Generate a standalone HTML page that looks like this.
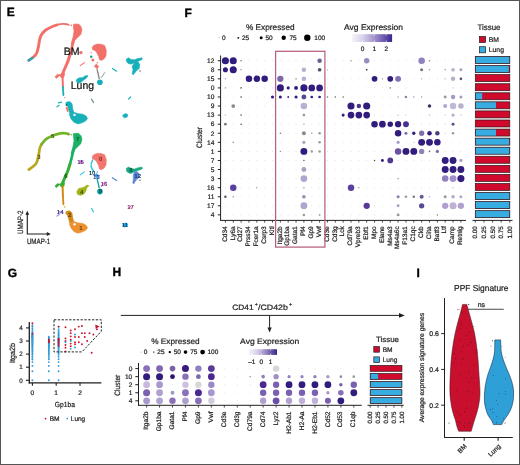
<!DOCTYPE html>
<html><head><meta charset="utf-8"><style>
html,body{margin:0;padding:0;background:#fff;}
#fig{position:relative;width:520px;height:465px;overflow:hidden;background:#fff;}
svg{position:absolute;left:0;top:0;will-change:transform;}
text{font-family:"Liberation Sans",sans-serif;text-rendering:geometricPrecision;}
</style></head><body><div id="fig">
<svg width="520" height="465" viewBox="0 0 520 465">
<rect x="0" y="0" width="520" height="465" fill="#fff"/>
<text x="6.80" y="16.30" font-size="12.0" fill="#000" font-weight="bold" stroke="#000" stroke-width="0.35">E</text>
<text x="184.60" y="16.50" font-size="12.0" fill="#000" font-weight="bold" stroke="#000" stroke-width="0.35">F</text>
<text x="7.80" y="277.30" font-size="12.0" fill="#000" font-weight="bold" stroke="#000" stroke-width="0.35">G</text>
<text x="112.60" y="275.60" font-size="12.0" fill="#000" font-weight="bold" stroke="#000" stroke-width="0.35">H</text>
<text x="416.50" y="277.30" font-size="12.0" fill="#000" font-weight="bold" stroke="#000" stroke-width="0.35">I</text>
<text x="246.00" y="29.60" font-size="8.2" fill="#231f20" textLength="48.6" lengthAdjust="spacingAndGlyphs" stroke="#231f20" stroke-width="0.22" >% Expressed</text>
<circle cx="219.00" cy="37.80" r="0.4" fill="#000" />
<text x="222.00" y="40.10" font-size="6.5" fill="#231f20" stroke="#231f20" stroke-width="0.22" >0</text>
<circle cx="238.30" cy="37.80" r="0.9" fill="#000" />
<text x="242.00" y="40.10" font-size="6.5" fill="#231f20" stroke="#231f20" stroke-width="0.22" >25</text>
<circle cx="261.20" cy="37.80" r="1.5" fill="#000" />
<text x="265.40" y="40.10" font-size="6.5" fill="#231f20" stroke="#231f20" stroke-width="0.22" >50</text>
<circle cx="283.70" cy="37.80" r="2.2" fill="#000" />
<text x="289.40" y="40.10" font-size="6.5" fill="#231f20" stroke="#231f20" stroke-width="0.22" >75</text>
<circle cx="307.30" cy="37.80" r="3.2" fill="#000" />
<text x="314.30" y="40.10" font-size="6.5" fill="#231f20" stroke="#231f20" stroke-width="0.22" >100</text>
<text x="344.00" y="29.60" font-size="8.2" fill="#231f20" textLength="59.0" lengthAdjust="spacingAndGlyphs" stroke="#231f20" stroke-width="0.22" >Avg Expression</text>
<defs><linearGradient id="gF" x1="0" x2="1" y1="0" y2="0"><stop offset="0" stop-color="#f7f5fb"/><stop offset="0.27" stop-color="#d9d1ea"/><stop offset="0.55" stop-color="#a596cc"/><stop offset="0.8" stop-color="#6a58ae"/><stop offset="1" stop-color="#3a2788"/></linearGradient><linearGradient id="gH" x1="0" x2="1" y1="0" y2="0"><stop offset="0" stop-color="#f7f5fb"/><stop offset="0.3" stop-color="#d9d1ea"/><stop offset="0.6" stop-color="#9a8ac6"/><stop offset="1" stop-color="#3a2788"/></linearGradient></defs>
<rect x="351.80" y="34.20" width="40.30" height="7.80" fill="url(#gF)" stroke="none" stroke-width="0" />
<line x1="362.60" y1="34.20" x2="362.60" y2="35.80" stroke="#fff" stroke-width="0.6" />
<line x1="362.60" y1="40.40" x2="362.60" y2="42.00" stroke="#fff" stroke-width="0.6" />
<line x1="374.30" y1="34.20" x2="374.30" y2="35.80" stroke="#fff" stroke-width="0.6" />
<line x1="374.30" y1="40.40" x2="374.30" y2="42.00" stroke="#fff" stroke-width="0.6" />
<line x1="386.20" y1="34.20" x2="386.20" y2="35.80" stroke="#fff" stroke-width="0.6" />
<line x1="386.20" y1="40.40" x2="386.20" y2="42.00" stroke="#fff" stroke-width="0.6" />
<text x="362.60" y="50.90" font-size="6.5" fill="#231f20" text-anchor="middle" stroke="#231f20" stroke-width="0.22" >0</text>
<text x="374.40" y="50.90" font-size="6.5" fill="#231f20" text-anchor="middle" stroke="#231f20" stroke-width="0.22" >1</text>
<text x="386.30" y="50.90" font-size="6.5" fill="#231f20" text-anchor="middle" stroke="#231f20" stroke-width="0.22" >2</text>
<text x="477.50" y="29.50" font-size="8.0" fill="#231f20" textLength="23.0" lengthAdjust="spacingAndGlyphs" stroke="#231f20" stroke-width="0.22" >Tissue</text>
<rect x="479.40" y="36.40" width="6.20" height="6.10" fill="#cf0a2c" stroke="#231f20" stroke-width="0.7" />
<rect x="479.40" y="46.70" width="6.20" height="6.10" fill="#36ace0" stroke="#231f20" stroke-width="0.7" />
<text x="488.80" y="41.90" font-size="6.8" fill="#231f20" stroke="#231f20" stroke-width="0.22" >BM</text>
<text x="488.80" y="51.90" font-size="6.8" fill="#231f20" stroke="#231f20" stroke-width="0.22" >Lung</text>
<circle cx="225.40" cy="60.70" r="3.55" fill="#321c7e" />
<circle cx="233.25" cy="60.70" r="3.55" fill="#321c7e" />
<circle cx="241.10" cy="60.70" r="0.8" fill="#777" />
<circle cx="248.95" cy="60.70" r="0.6" fill="#e6e3ec" />
<circle cx="256.80" cy="60.70" r="0.6" fill="#e6e3ec" />
<circle cx="264.65" cy="60.70" r="0.6" fill="#e6e3ec" />
<circle cx="272.50" cy="60.70" r="0.6" fill="#e6e3ec" />
<circle cx="280.35" cy="60.70" r="0.6" fill="#e6e3ec" />
<circle cx="288.20" cy="60.70" r="0.6" fill="#e6e3ec" />
<circle cx="296.05" cy="60.70" r="0.6" fill="#e6e3ec" />
<circle cx="303.90" cy="60.70" r="0.6" fill="#e6e3ec" />
<circle cx="311.75" cy="60.70" r="0.6" fill="#e6e3ec" />
<circle cx="319.60" cy="60.70" r="2.25" fill="#6a6090" />
<circle cx="327.45" cy="60.70" r="0.6" fill="#e6e3ec" />
<circle cx="335.30" cy="60.70" r="0.6" fill="#e6e3ec" />
<circle cx="343.15" cy="60.70" r="0.6" fill="#e6e3ec" />
<circle cx="351.00" cy="60.70" r="0.8" fill="#999" />
<circle cx="358.85" cy="60.70" r="0.6" fill="#e6e3ec" />
<circle cx="366.70" cy="60.70" r="2.75" fill="#9a8cc0" />
<circle cx="374.55" cy="60.70" r="0.6" fill="#e6e3ec" />
<circle cx="382.40" cy="60.70" r="0.6" fill="#e6e3ec" />
<circle cx="390.25" cy="60.70" r="0.6" fill="#e6e3ec" />
<circle cx="398.10" cy="60.70" r="0.6" fill="#e6e3ec" />
<circle cx="405.95" cy="60.70" r="0.6" fill="#e6e3ec" />
<circle cx="413.80" cy="60.70" r="0.6" fill="#e6e3ec" />
<circle cx="421.65" cy="60.70" r="3.25" fill="#9080c0" />
<circle cx="429.50" cy="60.70" r="0.8" fill="#888" />
<circle cx="437.35" cy="60.70" r="0.6" fill="#e6e3ec" />
<circle cx="445.20" cy="60.70" r="0.6" fill="#e6e3ec" />
<circle cx="453.05" cy="60.70" r="0.6" fill="#e6e3ec" />
<circle cx="460.90" cy="60.70" r="0.6" fill="#e6e3ec" />
<circle cx="225.40" cy="69.77" r="2.55" fill="#321c7e" />
<circle cx="233.25" cy="69.77" r="3.55" fill="#321c7e" />
<circle cx="241.10" cy="69.77" r="0.8" fill="#9990b0" />
<circle cx="248.95" cy="69.77" r="0.6" fill="#e6e3ec" />
<circle cx="256.80" cy="69.77" r="0.6" fill="#e6e3ec" />
<circle cx="264.65" cy="69.77" r="0.6" fill="#e6e3ec" />
<circle cx="272.50" cy="69.77" r="0.6" fill="#e6e3ec" />
<circle cx="280.35" cy="69.77" r="0.6" fill="#e6e3ec" />
<circle cx="288.20" cy="69.77" r="0.6" fill="#e6e3ec" />
<circle cx="296.05" cy="69.77" r="0.6" fill="#e6e3ec" />
<circle cx="303.90" cy="69.77" r="2.25" fill="#b8b0d0" />
<circle cx="311.75" cy="69.77" r="0.6" fill="#e6e3ec" />
<circle cx="319.60" cy="69.77" r="1.85" fill="#555070" />
<circle cx="327.45" cy="69.77" r="0.6" fill="#999" />
<circle cx="335.30" cy="69.77" r="0.6" fill="#e6e3ec" />
<circle cx="343.15" cy="69.77" r="0.6" fill="#e6e3ec" />
<circle cx="351.00" cy="69.77" r="0.6" fill="#e6e3ec" />
<circle cx="358.85" cy="69.77" r="0.6" fill="#e6e3ec" />
<circle cx="366.70" cy="69.77" r="0.9" fill="#555" />
<circle cx="374.55" cy="69.77" r="0.6" fill="#e6e3ec" />
<circle cx="382.40" cy="69.77" r="0.6" fill="#e6e3ec" />
<circle cx="390.25" cy="69.77" r="0.6" fill="#e6e3ec" />
<circle cx="398.10" cy="69.77" r="0.6" fill="#e6e3ec" />
<circle cx="405.95" cy="69.77" r="0.6" fill="#e6e3ec" />
<circle cx="413.80" cy="69.77" r="0.6" fill="#e6e3ec" />
<circle cx="421.65" cy="69.77" r="1.55" fill="#777" />
<circle cx="429.50" cy="69.77" r="0.8" fill="#999" />
<circle cx="437.35" cy="69.77" r="0.6" fill="#e6e3ec" />
<circle cx="445.20" cy="69.77" r="0.8" fill="#999" />
<circle cx="453.05" cy="69.77" r="1.85" fill="#b8b0d0" />
<circle cx="460.90" cy="69.77" r="1.45" fill="#a8a0c0" />
<circle cx="225.40" cy="78.84" r="0.7" fill="#8080c0" />
<circle cx="233.25" cy="78.84" r="0.6" fill="#e6e3ec" />
<circle cx="241.10" cy="78.84" r="0.6" fill="#e6e3ec" />
<circle cx="248.95" cy="78.84" r="3.25" fill="#321c7e" />
<circle cx="256.80" cy="78.84" r="3.25" fill="#321c7e" />
<circle cx="264.65" cy="78.84" r="3.25" fill="#321c7e" />
<circle cx="272.50" cy="78.84" r="0.6" fill="#e6e3ec" />
<circle cx="280.35" cy="78.84" r="3.15" fill="#7a68a8" />
<circle cx="288.20" cy="78.84" r="0.6" fill="#e6e3ec" />
<circle cx="296.05" cy="78.84" r="0.7" fill="#555" />
<circle cx="303.90" cy="78.84" r="2.25" fill="#b8b0d0" />
<circle cx="311.75" cy="78.84" r="0.6" fill="#e6e3ec" />
<circle cx="319.60" cy="78.84" r="0.6" fill="#e6e3ec" />
<circle cx="327.45" cy="78.84" r="0.6" fill="#e6e3ec" />
<circle cx="335.30" cy="78.84" r="0.6" fill="#e6e3ec" />
<circle cx="343.15" cy="78.84" r="0.6" fill="#e6e3ec" />
<circle cx="351.00" cy="78.84" r="0.6" fill="#e6e3ec" />
<circle cx="358.85" cy="78.84" r="0.6" fill="#e6e3ec" />
<circle cx="366.70" cy="78.84" r="0.6" fill="#e6e3ec" />
<circle cx="374.55" cy="78.84" r="2.85" fill="#321c7e" />
<circle cx="382.40" cy="78.84" r="0.7" fill="#888" />
<circle cx="390.25" cy="78.84" r="2.85" fill="#321c7e" />
<circle cx="398.10" cy="78.84" r="2.95" fill="#8070b0" />
<circle cx="405.95" cy="78.84" r="0.6" fill="#e6e3ec" />
<circle cx="413.80" cy="78.84" r="0.6" fill="#e6e3ec" />
<circle cx="421.65" cy="78.84" r="0.7" fill="#999" />
<circle cx="429.50" cy="78.84" r="0.6" fill="#e6e3ec" />
<circle cx="437.35" cy="78.84" r="0.6" fill="#e6e3ec" />
<circle cx="445.20" cy="78.84" r="0.7" fill="#aaa" />
<circle cx="453.05" cy="78.84" r="2.25" fill="#b8b0d0" />
<circle cx="460.90" cy="78.84" r="1.35" fill="#555070" />
<circle cx="225.40" cy="87.91" r="0.8" fill="#aaa" />
<circle cx="233.25" cy="87.91" r="0.6" fill="#e6e3ec" />
<circle cx="241.10" cy="87.91" r="0.8" fill="#555" />
<circle cx="248.95" cy="87.91" r="0.6" fill="#e6e3ec" />
<circle cx="256.80" cy="87.91" r="0.6" fill="#e6e3ec" />
<circle cx="264.65" cy="87.91" r="0.6" fill="#e6e3ec" />
<circle cx="272.50" cy="87.91" r="0.6" fill="#e6e3ec" />
<circle cx="280.35" cy="87.91" r="3.55" fill="#321c7e" />
<circle cx="288.20" cy="87.91" r="1.55" fill="#321c7e" />
<circle cx="296.05" cy="87.91" r="1.95" fill="#321c7e" />
<circle cx="303.90" cy="87.91" r="3.55" fill="#321c7e" />
<circle cx="311.75" cy="87.91" r="3.35" fill="#321c7e" />
<circle cx="319.60" cy="87.91" r="3.35" fill="#321c7e" />
<circle cx="327.45" cy="87.91" r="0.6" fill="#e6e3ec" />
<circle cx="335.30" cy="87.91" r="0.6" fill="#e6e3ec" />
<circle cx="343.15" cy="87.91" r="0.6" fill="#e6e3ec" />
<circle cx="351.00" cy="87.91" r="0.6" fill="#e6e3ec" />
<circle cx="358.85" cy="87.91" r="0.6" fill="#e6e3ec" />
<circle cx="366.70" cy="87.91" r="0.6" fill="#e6e3ec" />
<circle cx="374.55" cy="87.91" r="0.6" fill="#e6e3ec" />
<circle cx="382.40" cy="87.91" r="0.6" fill="#e6e3ec" />
<circle cx="390.25" cy="87.91" r="0.8" fill="#888" />
<circle cx="398.10" cy="87.91" r="0.6" fill="#e6e3ec" />
<circle cx="405.95" cy="87.91" r="0.6" fill="#e6e3ec" />
<circle cx="413.80" cy="87.91" r="0.6" fill="#e6e3ec" />
<circle cx="421.65" cy="87.91" r="0.6" fill="#e6e3ec" />
<circle cx="429.50" cy="87.91" r="0.6" fill="#e6e3ec" />
<circle cx="437.35" cy="87.91" r="0.6" fill="#e6e3ec" />
<circle cx="445.20" cy="87.91" r="0.6" fill="#e6e3ec" />
<circle cx="453.05" cy="87.91" r="0.7" fill="#ccc" />
<circle cx="460.90" cy="87.91" r="0.6" fill="#e6e3ec" />
<circle cx="225.40" cy="96.98" r="0.6" fill="#e6e3ec" />
<circle cx="233.25" cy="96.98" r="0.6" fill="#e6e3ec" />
<circle cx="241.10" cy="96.98" r="0.8" fill="#444" />
<circle cx="248.95" cy="96.98" r="0.6" fill="#e6e3ec" />
<circle cx="256.80" cy="96.98" r="0.6" fill="#e6e3ec" />
<circle cx="264.65" cy="96.98" r="0.6" fill="#e6e3ec" />
<circle cx="272.50" cy="96.98" r="1.55" fill="#321c7e" />
<circle cx="280.35" cy="96.98" r="1.55" fill="#321c7e" />
<circle cx="288.20" cy="96.98" r="0.9" fill="#321c7e" />
<circle cx="296.05" cy="96.98" r="1.55" fill="#321c7e" />
<circle cx="303.90" cy="96.98" r="2.45" fill="#5a4890" />
<circle cx="311.75" cy="96.98" r="1.35" fill="#321c7e" />
<circle cx="319.60" cy="96.98" r="1.35" fill="#321c7e" />
<circle cx="327.45" cy="96.98" r="0.8" fill="#666" />
<circle cx="335.30" cy="96.98" r="0.8" fill="#666" />
<circle cx="343.15" cy="96.98" r="0.8" fill="#666" />
<circle cx="351.00" cy="96.98" r="0.6" fill="#e6e3ec" />
<circle cx="358.85" cy="96.98" r="0.6" fill="#e6e3ec" />
<circle cx="366.70" cy="96.98" r="0.6" fill="#e6e3ec" />
<circle cx="374.55" cy="96.98" r="0.6" fill="#e6e3ec" />
<circle cx="382.40" cy="96.98" r="0.6" fill="#e6e3ec" />
<circle cx="390.25" cy="96.98" r="0.6" fill="#e6e3ec" />
<circle cx="398.10" cy="96.98" r="0.7" fill="#999" />
<circle cx="405.95" cy="96.98" r="1.25" fill="#8a80a8" />
<circle cx="413.80" cy="96.98" r="0.7" fill="#999" />
<circle cx="421.65" cy="96.98" r="0.7" fill="#999" />
<circle cx="429.50" cy="96.98" r="0.6" fill="#e6e3ec" />
<circle cx="437.35" cy="96.98" r="0.6" fill="#e6e3ec" />
<circle cx="445.20" cy="96.98" r="1.45" fill="#999" />
<circle cx="453.05" cy="96.98" r="2.25" fill="#a898c8" />
<circle cx="460.90" cy="96.98" r="1.55" fill="#a8a0c0" />
<circle cx="225.40" cy="106.05" r="0.6" fill="#e6e3ec" />
<circle cx="233.25" cy="106.05" r="1.85" fill="#888" />
<circle cx="241.10" cy="106.05" r="0.6" fill="#e6e3ec" />
<circle cx="248.95" cy="106.05" r="0.6" fill="#e6e3ec" />
<circle cx="256.80" cy="106.05" r="0.6" fill="#e6e3ec" />
<circle cx="264.65" cy="106.05" r="0.6" fill="#e6e3ec" />
<circle cx="272.50" cy="106.05" r="0.6" fill="#e6e3ec" />
<circle cx="280.35" cy="106.05" r="0.6" fill="#e6e3ec" />
<circle cx="288.20" cy="106.05" r="0.6" fill="#e6e3ec" />
<circle cx="296.05" cy="106.05" r="0.6" fill="#e6e3ec" />
<circle cx="303.90" cy="106.05" r="3.25" fill="#b8aed6" />
<circle cx="311.75" cy="106.05" r="0.6" fill="#e6e3ec" />
<circle cx="319.60" cy="106.05" r="0.6" fill="#e6e3ec" />
<circle cx="327.45" cy="106.05" r="0.6" fill="#e6e3ec" />
<circle cx="335.30" cy="106.05" r="0.6" fill="#e6e3ec" />
<circle cx="343.15" cy="106.05" r="0.6" fill="#e6e3ec" />
<circle cx="351.00" cy="106.05" r="3.55" fill="#321c7e" />
<circle cx="358.85" cy="106.05" r="2.25" fill="#4a3488" />
<circle cx="366.70" cy="106.05" r="3.55" fill="#321c7e" />
<circle cx="374.55" cy="106.05" r="0.6" fill="#e6e3ec" />
<circle cx="382.40" cy="106.05" r="0.6" fill="#e6e3ec" />
<circle cx="390.25" cy="106.05" r="0.6" fill="#e6e3ec" />
<circle cx="398.10" cy="106.05" r="0.6" fill="#e6e3ec" />
<circle cx="405.95" cy="106.05" r="0.6" fill="#e6e3ec" />
<circle cx="413.80" cy="106.05" r="0.6" fill="#e6e3ec" />
<circle cx="421.65" cy="106.05" r="0.6" fill="#e6e3ec" />
<circle cx="429.50" cy="106.05" r="1.75" fill="#3a3060" />
<circle cx="437.35" cy="106.05" r="0.6" fill="#e6e3ec" />
<circle cx="445.20" cy="106.05" r="2.05" fill="#b0a8d0" />
<circle cx="453.05" cy="106.05" r="3.25" fill="#c0b8d8" />
<circle cx="460.90" cy="106.05" r="2.75" fill="#b8b0d0" />
<circle cx="225.40" cy="115.12" r="0.7" fill="#b0a8d0" />
<circle cx="233.25" cy="115.12" r="0.6" fill="#e6e3ec" />
<circle cx="241.10" cy="115.12" r="0.8" fill="#555" />
<circle cx="248.95" cy="115.12" r="0.6" fill="#e6e3ec" />
<circle cx="256.80" cy="115.12" r="0.6" fill="#e6e3ec" />
<circle cx="264.65" cy="115.12" r="0.6" fill="#e6e3ec" />
<circle cx="272.50" cy="115.12" r="0.6" fill="#e6e3ec" />
<circle cx="280.35" cy="115.12" r="0.6" fill="#e6e3ec" />
<circle cx="288.20" cy="115.12" r="0.6" fill="#e6e3ec" />
<circle cx="296.05" cy="115.12" r="0.6" fill="#e6e3ec" />
<circle cx="303.90" cy="115.12" r="1.35" fill="#999" />
<circle cx="311.75" cy="115.12" r="0.6" fill="#e6e3ec" />
<circle cx="319.60" cy="115.12" r="0.6" fill="#e6e3ec" />
<circle cx="327.45" cy="115.12" r="0.6" fill="#e6e3ec" />
<circle cx="335.30" cy="115.12" r="0.6" fill="#e6e3ec" />
<circle cx="343.15" cy="115.12" r="1.55" fill="#321c7e" />
<circle cx="351.00" cy="115.12" r="3.35" fill="#321c7e" />
<circle cx="358.85" cy="115.12" r="3.35" fill="#321c7e" />
<circle cx="366.70" cy="115.12" r="3.35" fill="#321c7e" />
<circle cx="374.55" cy="115.12" r="0.6" fill="#e6e3ec" />
<circle cx="382.40" cy="115.12" r="0.6" fill="#e6e3ec" />
<circle cx="390.25" cy="115.12" r="0.6" fill="#e6e3ec" />
<circle cx="398.10" cy="115.12" r="0.7" fill="#b0a8d0" />
<circle cx="405.95" cy="115.12" r="0.6" fill="#bbb" />
<circle cx="413.80" cy="115.12" r="0.6" fill="#e6e3ec" />
<circle cx="421.65" cy="115.12" r="0.6" fill="#e6e3ec" />
<circle cx="429.50" cy="115.12" r="0.7" fill="#aaa" />
<circle cx="437.35" cy="115.12" r="0.6" fill="#e6e3ec" />
<circle cx="445.20" cy="115.12" r="0.7" fill="#c0b8d8" />
<circle cx="453.05" cy="115.12" r="1.55" fill="#b0a8d0" />
<circle cx="460.90" cy="115.12" r="0.7" fill="#bbb" />
<circle cx="225.40" cy="124.19" r="1.35" fill="#777" />
<circle cx="233.25" cy="124.19" r="0.6" fill="#e6e3ec" />
<circle cx="241.10" cy="124.19" r="0.8" fill="#555" />
<circle cx="248.95" cy="124.19" r="0.6" fill="#e6e3ec" />
<circle cx="256.80" cy="124.19" r="0.6" fill="#e6e3ec" />
<circle cx="264.65" cy="124.19" r="0.6" fill="#e6e3ec" />
<circle cx="272.50" cy="124.19" r="0.6" fill="#e6e3ec" />
<circle cx="280.35" cy="124.19" r="0.6" fill="#e6e3ec" />
<circle cx="288.20" cy="124.19" r="0.6" fill="#e6e3ec" />
<circle cx="296.05" cy="124.19" r="0.6" fill="#e6e3ec" />
<circle cx="303.90" cy="124.19" r="0.8" fill="#aaa" />
<circle cx="311.75" cy="124.19" r="0.6" fill="#e6e3ec" />
<circle cx="319.60" cy="124.19" r="0.6" fill="#e6e3ec" />
<circle cx="327.45" cy="124.19" r="0.6" fill="#e6e3ec" />
<circle cx="335.30" cy="124.19" r="0.6" fill="#e6e3ec" />
<circle cx="343.15" cy="124.19" r="0.6" fill="#e6e3ec" />
<circle cx="351.00" cy="124.19" r="0.6" fill="#e6e3ec" />
<circle cx="358.85" cy="124.19" r="0.6" fill="#e6e3ec" />
<circle cx="366.70" cy="124.19" r="0.6" fill="#e6e3ec" />
<circle cx="374.55" cy="124.19" r="3.25" fill="#321c7e" />
<circle cx="382.40" cy="124.19" r="3.35" fill="#321c7e" />
<circle cx="390.25" cy="124.19" r="2.75" fill="#321c7e" />
<circle cx="398.10" cy="124.19" r="3.15" fill="#321c7e" />
<circle cx="405.95" cy="124.19" r="2.95" fill="#4a3090" />
<circle cx="413.80" cy="124.19" r="0.6" fill="#e6e3ec" />
<circle cx="421.65" cy="124.19" r="0.6" fill="#e6e3ec" />
<circle cx="429.50" cy="124.19" r="0.6" fill="#e6e3ec" />
<circle cx="437.35" cy="124.19" r="0.6" fill="#e6e3ec" />
<circle cx="445.20" cy="124.19" r="0.6" fill="#ccc" />
<circle cx="453.05" cy="124.19" r="1.45" fill="#555080" />
<circle cx="460.90" cy="124.19" r="0.6" fill="#e6e3ec" />
<circle cx="225.40" cy="133.26" r="0.6" fill="#e6e3ec" />
<circle cx="233.25" cy="133.26" r="0.6" fill="#e6e3ec" />
<circle cx="241.10" cy="133.26" r="0.6" fill="#e6e3ec" />
<circle cx="248.95" cy="133.26" r="0.6" fill="#e6e3ec" />
<circle cx="256.80" cy="133.26" r="0.6" fill="#e6e3ec" />
<circle cx="264.65" cy="133.26" r="0.6" fill="#e6e3ec" />
<circle cx="272.50" cy="133.26" r="0.6" fill="#e6e3ec" />
<circle cx="280.35" cy="133.26" r="0.7" fill="#666" />
<circle cx="288.20" cy="133.26" r="0.6" fill="#e6e3ec" />
<circle cx="296.05" cy="133.26" r="0.6" fill="#e6e3ec" />
<circle cx="303.90" cy="133.26" r="1.95" fill="#888" />
<circle cx="311.75" cy="133.26" r="0.8" fill="#999" />
<circle cx="319.60" cy="133.26" r="1.25" fill="#999" />
<circle cx="327.45" cy="133.26" r="0.6" fill="#e6e3ec" />
<circle cx="335.30" cy="133.26" r="0.6" fill="#e6e3ec" />
<circle cx="343.15" cy="133.26" r="0.6" fill="#e6e3ec" />
<circle cx="351.00" cy="133.26" r="0.6" fill="#e6e3ec" />
<circle cx="358.85" cy="133.26" r="0.6" fill="#e6e3ec" />
<circle cx="366.70" cy="133.26" r="0.6" fill="#e6e3ec" />
<circle cx="374.55" cy="133.26" r="0.6" fill="#e6e3ec" />
<circle cx="382.40" cy="133.26" r="0.6" fill="#e6e3ec" />
<circle cx="390.25" cy="133.26" r="0.6" fill="#e6e3ec" />
<circle cx="398.10" cy="133.26" r="3.25" fill="#321c7e" />
<circle cx="405.95" cy="133.26" r="1.55" fill="#8070a8" />
<circle cx="413.80" cy="133.26" r="1.65" fill="#321c7e" />
<circle cx="421.65" cy="133.26" r="2.65" fill="#8070a8" />
<circle cx="429.50" cy="133.26" r="2.25" fill="#321c7e" />
<circle cx="437.35" cy="133.26" r="2.25" fill="#4a4080" />
<circle cx="445.20" cy="133.26" r="0.6" fill="#ccc" />
<circle cx="453.05" cy="133.26" r="1.25" fill="#999" />
<circle cx="460.90" cy="133.26" r="0.6" fill="#e6e3ec" />
<circle cx="225.40" cy="142.33" r="0.6" fill="#e6e3ec" />
<circle cx="233.25" cy="142.33" r="0.8" fill="#999" />
<circle cx="241.10" cy="142.33" r="0.6" fill="#e6e3ec" />
<circle cx="248.95" cy="142.33" r="0.6" fill="#e6e3ec" />
<circle cx="256.80" cy="142.33" r="0.6" fill="#e6e3ec" />
<circle cx="264.65" cy="142.33" r="0.6" fill="#e6e3ec" />
<circle cx="272.50" cy="142.33" r="0.6" fill="#e6e3ec" />
<circle cx="280.35" cy="142.33" r="0.6" fill="#e6e3ec" />
<circle cx="288.20" cy="142.33" r="0.6" fill="#e6e3ec" />
<circle cx="296.05" cy="142.33" r="0.6" fill="#e6e3ec" />
<circle cx="303.90" cy="142.33" r="1.55" fill="#a8a0c0" />
<circle cx="311.75" cy="142.33" r="0.6" fill="#e6e3ec" />
<circle cx="319.60" cy="142.33" r="1.25" fill="#999" />
<circle cx="327.45" cy="142.33" r="0.6" fill="#e6e3ec" />
<circle cx="335.30" cy="142.33" r="0.6" fill="#e6e3ec" />
<circle cx="343.15" cy="142.33" r="0.6" fill="#e6e3ec" />
<circle cx="351.00" cy="142.33" r="0.6" fill="#e6e3ec" />
<circle cx="358.85" cy="142.33" r="0.6" fill="#e6e3ec" />
<circle cx="366.70" cy="142.33" r="0.6" fill="#e6e3ec" />
<circle cx="374.55" cy="142.33" r="0.6" fill="#e6e3ec" />
<circle cx="382.40" cy="142.33" r="0.6" fill="#e6e3ec" />
<circle cx="390.25" cy="142.33" r="0.6" fill="#e6e3ec" />
<circle cx="398.10" cy="142.33" r="1.55" fill="#a898c8" />
<circle cx="405.95" cy="142.33" r="0.6" fill="#e6e3ec" />
<circle cx="413.80" cy="142.33" r="0.6" fill="#bbb" />
<circle cx="421.65" cy="142.33" r="3.45" fill="#321c7e" />
<circle cx="429.50" cy="142.33" r="3.45" fill="#321c7e" />
<circle cx="437.35" cy="142.33" r="3.25" fill="#321c7e" />
<circle cx="445.20" cy="142.33" r="0.6" fill="#e6e3ec" />
<circle cx="453.05" cy="142.33" r="0.6" fill="#e6e3ec" />
<circle cx="460.90" cy="142.33" r="0.6" fill="#e6e3ec" />
<circle cx="225.40" cy="151.40" r="0.6" fill="#e6e3ec" />
<circle cx="233.25" cy="151.40" r="0.6" fill="#e6e3ec" />
<circle cx="241.10" cy="151.40" r="0.6" fill="#e6e3ec" />
<circle cx="248.95" cy="151.40" r="0.6" fill="#e6e3ec" />
<circle cx="256.80" cy="151.40" r="0.6" fill="#e6e3ec" />
<circle cx="264.65" cy="151.40" r="0.6" fill="#e6e3ec" />
<circle cx="272.50" cy="151.40" r="0.6" fill="#e6e3ec" />
<circle cx="280.35" cy="151.40" r="0.7" fill="#888" />
<circle cx="288.20" cy="151.40" r="0.6" fill="#e6e3ec" />
<circle cx="296.05" cy="151.40" r="0.6" fill="#e6e3ec" />
<circle cx="303.90" cy="151.40" r="3.45" fill="#321c7e" />
<circle cx="311.75" cy="151.40" r="1.25" fill="#999" />
<circle cx="319.60" cy="151.40" r="1.25" fill="#999" />
<circle cx="327.45" cy="151.40" r="0.6" fill="#e6e3ec" />
<circle cx="335.30" cy="151.40" r="0.6" fill="#e6e3ec" />
<circle cx="343.15" cy="151.40" r="0.6" fill="#e6e3ec" />
<circle cx="351.00" cy="151.40" r="0.6" fill="#e6e3ec" />
<circle cx="358.85" cy="151.40" r="0.6" fill="#e6e3ec" />
<circle cx="366.70" cy="151.40" r="0.6" fill="#e6e3ec" />
<circle cx="374.55" cy="151.40" r="0.6" fill="#e6e3ec" />
<circle cx="382.40" cy="151.40" r="0.6" fill="#e6e3ec" />
<circle cx="390.25" cy="151.40" r="0.6" fill="#e6e3ec" />
<circle cx="398.10" cy="151.40" r="3.25" fill="#6a50a0" />
<circle cx="405.95" cy="151.40" r="3.45" fill="#321c7e" />
<circle cx="413.80" cy="151.40" r="3.45" fill="#321c7e" />
<circle cx="421.65" cy="151.40" r="2.65" fill="#9080b8" />
<circle cx="429.50" cy="151.40" r="0.8" fill="#666" />
<circle cx="437.35" cy="151.40" r="1.65" fill="#7a70a0" />
<circle cx="445.20" cy="151.40" r="0.6" fill="#e6e3ec" />
<circle cx="453.05" cy="151.40" r="0.6" fill="#e6e3ec" />
<circle cx="460.90" cy="151.40" r="0.6" fill="#e6e3ec" />
<circle cx="225.40" cy="160.47" r="0.6" fill="#e6e3ec" />
<circle cx="233.25" cy="160.47" r="0.6" fill="#e6e3ec" />
<circle cx="241.10" cy="160.47" r="0.6" fill="#e6e3ec" />
<circle cx="248.95" cy="160.47" r="0.6" fill="#e6e3ec" />
<circle cx="256.80" cy="160.47" r="0.6" fill="#e6e3ec" />
<circle cx="264.65" cy="160.47" r="0.6" fill="#e6e3ec" />
<circle cx="272.50" cy="160.47" r="0.6" fill="#e6e3ec" />
<circle cx="280.35" cy="160.47" r="0.6" fill="#e6e3ec" />
<circle cx="288.20" cy="160.47" r="0.6" fill="#e6e3ec" />
<circle cx="296.05" cy="160.47" r="0.6" fill="#e6e3ec" />
<circle cx="303.90" cy="160.47" r="0.8" fill="#666" />
<circle cx="311.75" cy="160.47" r="0.6" fill="#e6e3ec" />
<circle cx="319.60" cy="160.47" r="0.6" fill="#e6e3ec" />
<circle cx="327.45" cy="160.47" r="0.6" fill="#e6e3ec" />
<circle cx="335.30" cy="160.47" r="0.6" fill="#e6e3ec" />
<circle cx="343.15" cy="160.47" r="0.6" fill="#e6e3ec" />
<circle cx="351.00" cy="160.47" r="0.6" fill="#e6e3ec" />
<circle cx="358.85" cy="160.47" r="0.6" fill="#e6e3ec" />
<circle cx="366.70" cy="160.47" r="0.6" fill="#e6e3ec" />
<circle cx="374.55" cy="160.47" r="0.7" fill="#444" />
<circle cx="382.40" cy="160.47" r="1.45" fill="#321c7e" />
<circle cx="390.25" cy="160.47" r="2.85" fill="#503890" />
<circle cx="398.10" cy="160.47" r="0.6" fill="#e6e3ec" />
<circle cx="405.95" cy="160.47" r="0.6" fill="#e6e3ec" />
<circle cx="413.80" cy="160.47" r="0.6" fill="#e6e3ec" />
<circle cx="421.65" cy="160.47" r="0.6" fill="#e6e3ec" />
<circle cx="429.50" cy="160.47" r="0.6" fill="#e6e3ec" />
<circle cx="437.35" cy="160.47" r="0.6" fill="#e6e3ec" />
<circle cx="445.20" cy="160.47" r="3.45" fill="#321c7e" />
<circle cx="453.05" cy="160.47" r="3.45" fill="#321c7e" />
<circle cx="460.90" cy="160.47" r="1.65" fill="#a8a0c8" />
<circle cx="225.40" cy="169.54" r="0.6" fill="#e6e3ec" />
<circle cx="233.25" cy="169.54" r="0.6" fill="#e6e3ec" />
<circle cx="241.10" cy="169.54" r="0.6" fill="#e6e3ec" />
<circle cx="248.95" cy="169.54" r="0.6" fill="#e6e3ec" />
<circle cx="256.80" cy="169.54" r="0.6" fill="#e6e3ec" />
<circle cx="264.65" cy="169.54" r="0.6" fill="#e6e3ec" />
<circle cx="272.50" cy="169.54" r="0.6" fill="#e6e3ec" />
<circle cx="280.35" cy="169.54" r="0.6" fill="#e6e3ec" />
<circle cx="288.20" cy="169.54" r="0.6" fill="#e6e3ec" />
<circle cx="296.05" cy="169.54" r="0.6" fill="#e6e3ec" />
<circle cx="303.90" cy="169.54" r="2.45" fill="#a8a0c0" />
<circle cx="311.75" cy="169.54" r="0.6" fill="#e6e3ec" />
<circle cx="319.60" cy="169.54" r="0.6" fill="#e6e3ec" />
<circle cx="327.45" cy="169.54" r="0.6" fill="#e6e3ec" />
<circle cx="335.30" cy="169.54" r="0.6" fill="#e6e3ec" />
<circle cx="343.15" cy="169.54" r="0.6" fill="#e6e3ec" />
<circle cx="351.00" cy="169.54" r="0.6" fill="#e6e3ec" />
<circle cx="358.85" cy="169.54" r="0.6" fill="#e6e3ec" />
<circle cx="366.70" cy="169.54" r="0.6" fill="#e6e3ec" />
<circle cx="374.55" cy="169.54" r="0.6" fill="#e6e3ec" />
<circle cx="382.40" cy="169.54" r="0.6" fill="#e6e3ec" />
<circle cx="390.25" cy="169.54" r="0.6" fill="#e6e3ec" />
<circle cx="398.10" cy="169.54" r="0.6" fill="#e6e3ec" />
<circle cx="405.95" cy="169.54" r="0.6" fill="#e6e3ec" />
<circle cx="413.80" cy="169.54" r="0.6" fill="#e6e3ec" />
<circle cx="421.65" cy="169.54" r="0.6" fill="#e6e3ec" />
<circle cx="429.50" cy="169.54" r="0.6" fill="#e6e3ec" />
<circle cx="437.35" cy="169.54" r="0.6" fill="#e6e3ec" />
<circle cx="445.20" cy="169.54" r="3.45" fill="#321c7e" />
<circle cx="453.05" cy="169.54" r="3.45" fill="#321c7e" />
<circle cx="460.90" cy="169.54" r="3.45" fill="#321c7e" />
<circle cx="225.40" cy="178.61" r="0.6" fill="#e6e3ec" />
<circle cx="233.25" cy="178.61" r="0.6" fill="#e6e3ec" />
<circle cx="241.10" cy="178.61" r="0.6" fill="#e6e3ec" />
<circle cx="248.95" cy="178.61" r="0.6" fill="#e6e3ec" />
<circle cx="256.80" cy="178.61" r="0.6" fill="#e6e3ec" />
<circle cx="264.65" cy="178.61" r="0.6" fill="#e6e3ec" />
<circle cx="272.50" cy="178.61" r="0.6" fill="#e6e3ec" />
<circle cx="280.35" cy="178.61" r="0.6" fill="#e6e3ec" />
<circle cx="288.20" cy="178.61" r="0.6" fill="#e6e3ec" />
<circle cx="296.05" cy="178.61" r="0.6" fill="#e6e3ec" />
<circle cx="303.90" cy="178.61" r="3.35" fill="#b0a4d0" />
<circle cx="311.75" cy="178.61" r="0.6" fill="#e6e3ec" />
<circle cx="319.60" cy="178.61" r="0.6" fill="#e6e3ec" />
<circle cx="327.45" cy="178.61" r="0.6" fill="#e6e3ec" />
<circle cx="335.30" cy="178.61" r="0.6" fill="#e6e3ec" />
<circle cx="343.15" cy="178.61" r="0.6" fill="#e6e3ec" />
<circle cx="351.00" cy="178.61" r="0.6" fill="#e6e3ec" />
<circle cx="358.85" cy="178.61" r="0.6" fill="#e6e3ec" />
<circle cx="366.70" cy="178.61" r="0.6" fill="#e6e3ec" />
<circle cx="374.55" cy="178.61" r="0.6" fill="#e6e3ec" />
<circle cx="382.40" cy="178.61" r="0.6" fill="#e6e3ec" />
<circle cx="390.25" cy="178.61" r="0.6" fill="#e6e3ec" />
<circle cx="398.10" cy="178.61" r="0.8" fill="#999" />
<circle cx="405.95" cy="178.61" r="0.6" fill="#e6e3ec" />
<circle cx="413.80" cy="178.61" r="0.6" fill="#e6e3ec" />
<circle cx="421.65" cy="178.61" r="0.6" fill="#e6e3ec" />
<circle cx="429.50" cy="178.61" r="0.6" fill="#e6e3ec" />
<circle cx="437.35" cy="178.61" r="0.6" fill="#e6e3ec" />
<circle cx="445.20" cy="178.61" r="3.25" fill="#9080c0" />
<circle cx="453.05" cy="178.61" r="3.45" fill="#9f90c8" />
<circle cx="460.90" cy="178.61" r="3.55" fill="#321c7e" />
<circle cx="225.40" cy="187.68" r="0.6" fill="#e6e3ec" />
<circle cx="233.25" cy="187.68" r="3.25" fill="#5a40a0" />
<circle cx="241.10" cy="187.68" r="0.6" fill="#e6e3ec" />
<circle cx="248.95" cy="187.68" r="0.6" fill="#e6e3ec" />
<circle cx="256.80" cy="187.68" r="0.7" fill="#999" />
<circle cx="264.65" cy="187.68" r="0.6" fill="#e6e3ec" />
<circle cx="272.50" cy="187.68" r="0.6" fill="#e6e3ec" />
<circle cx="280.35" cy="187.68" r="0.6" fill="#e6e3ec" />
<circle cx="288.20" cy="187.68" r="0.6" fill="#e6e3ec" />
<circle cx="296.05" cy="187.68" r="0.6" fill="#e6e3ec" />
<circle cx="303.90" cy="187.68" r="0.8" fill="#999" />
<circle cx="311.75" cy="187.68" r="0.6" fill="#e6e3ec" />
<circle cx="319.60" cy="187.68" r="0.6" fill="#e6e3ec" />
<circle cx="327.45" cy="187.68" r="0.6" fill="#e6e3ec" />
<circle cx="335.30" cy="187.68" r="0.6" fill="#e6e3ec" />
<circle cx="343.15" cy="187.68" r="0.6" fill="#e6e3ec" />
<circle cx="351.00" cy="187.68" r="3.25" fill="#5a40a0" />
<circle cx="358.85" cy="187.68" r="0.7" fill="#999" />
<circle cx="366.70" cy="187.68" r="0.6" fill="#e6e3ec" />
<circle cx="374.55" cy="187.68" r="0.6" fill="#e6e3ec" />
<circle cx="382.40" cy="187.68" r="0.6" fill="#e6e3ec" />
<circle cx="390.25" cy="187.68" r="0.6" fill="#e6e3ec" />
<circle cx="398.10" cy="187.68" r="0.6" fill="#e6e3ec" />
<circle cx="405.95" cy="187.68" r="0.6" fill="#e6e3ec" />
<circle cx="413.80" cy="187.68" r="0.6" fill="#e6e3ec" />
<circle cx="421.65" cy="187.68" r="0.6" fill="#e6e3ec" />
<circle cx="429.50" cy="187.68" r="0.6" fill="#e6e3ec" />
<circle cx="437.35" cy="187.68" r="0.6" fill="#e6e3ec" />
<circle cx="445.20" cy="187.68" r="0.6" fill="#e6e3ec" />
<circle cx="453.05" cy="187.68" r="0.7" fill="#c0b8d8" />
<circle cx="460.90" cy="187.68" r="0.6" fill="#e6e3ec" />
<circle cx="225.40" cy="196.75" r="1.25" fill="#555" />
<circle cx="233.25" cy="196.75" r="0.8" fill="#999" />
<circle cx="241.10" cy="196.75" r="0.6" fill="#e6e3ec" />
<circle cx="248.95" cy="196.75" r="0.6" fill="#e6e3ec" />
<circle cx="256.80" cy="196.75" r="0.6" fill="#e6e3ec" />
<circle cx="264.65" cy="196.75" r="0.6" fill="#e6e3ec" />
<circle cx="272.50" cy="196.75" r="0.6" fill="#e6e3ec" />
<circle cx="280.35" cy="196.75" r="0.6" fill="#e6e3ec" />
<circle cx="288.20" cy="196.75" r="0.6" fill="#e6e3ec" />
<circle cx="296.05" cy="196.75" r="0.6" fill="#e6e3ec" />
<circle cx="303.90" cy="196.75" r="1.85" fill="#9a90b0" />
<circle cx="311.75" cy="196.75" r="0.6" fill="#e6e3ec" />
<circle cx="319.60" cy="196.75" r="0.6" fill="#e6e3ec" />
<circle cx="327.45" cy="196.75" r="0.6" fill="#e6e3ec" />
<circle cx="335.30" cy="196.75" r="0.6" fill="#e6e3ec" />
<circle cx="343.15" cy="196.75" r="0.6" fill="#e6e3ec" />
<circle cx="351.00" cy="196.75" r="0.6" fill="#e6e3ec" />
<circle cx="358.85" cy="196.75" r="0.6" fill="#e6e3ec" />
<circle cx="366.70" cy="196.75" r="0.6" fill="#e6e3ec" />
<circle cx="374.55" cy="196.75" r="0.6" fill="#e6e3ec" />
<circle cx="382.40" cy="196.75" r="0.6" fill="#e6e3ec" />
<circle cx="390.25" cy="196.75" r="0.6" fill="#e6e3ec" />
<circle cx="398.10" cy="196.75" r="1.55" fill="#8a80a8" />
<circle cx="405.95" cy="196.75" r="1.35" fill="#999" />
<circle cx="413.80" cy="196.75" r="1.25" fill="#777" />
<circle cx="421.65" cy="196.75" r="2.05" fill="#6a5898" />
<circle cx="429.50" cy="196.75" r="0.7" fill="#b0a8d0" />
<circle cx="437.35" cy="196.75" r="0.6" fill="#e6e3ec" />
<circle cx="445.20" cy="196.75" r="1.55" fill="#999" />
<circle cx="453.05" cy="196.75" r="1.75" fill="#b0a8d0" />
<circle cx="460.90" cy="196.75" r="1.55" fill="#b0a8d0" />
<circle cx="225.40" cy="205.82" r="0.6" fill="#e6e3ec" />
<circle cx="233.25" cy="205.82" r="0.6" fill="#e6e3ec" />
<circle cx="241.10" cy="205.82" r="0.6" fill="#e6e3ec" />
<circle cx="248.95" cy="205.82" r="0.6" fill="#e6e3ec" />
<circle cx="256.80" cy="205.82" r="0.6" fill="#e6e3ec" />
<circle cx="264.65" cy="205.82" r="0.6" fill="#e6e3ec" />
<circle cx="272.50" cy="205.82" r="0.6" fill="#e6e3ec" />
<circle cx="280.35" cy="205.82" r="0.6" fill="#e6e3ec" />
<circle cx="288.20" cy="205.82" r="0.6" fill="#e6e3ec" />
<circle cx="296.05" cy="205.82" r="0.6" fill="#e6e3ec" />
<circle cx="303.90" cy="205.82" r="3.45" fill="#b0a4d0" />
<circle cx="311.75" cy="205.82" r="0.6" fill="#e6e3ec" />
<circle cx="319.60" cy="205.82" r="0.6" fill="#e6e3ec" />
<circle cx="327.45" cy="205.82" r="0.6" fill="#e6e3ec" />
<circle cx="335.30" cy="205.82" r="0.6" fill="#e6e3ec" />
<circle cx="343.15" cy="205.82" r="0.6" fill="#e6e3ec" />
<circle cx="351.00" cy="205.82" r="0.6" fill="#e6e3ec" />
<circle cx="358.85" cy="205.82" r="0.6" fill="#e6e3ec" />
<circle cx="366.70" cy="205.82" r="3.15" fill="#5a3a98" />
<circle cx="374.55" cy="205.82" r="0.6" fill="#e6e3ec" />
<circle cx="382.40" cy="205.82" r="0.6" fill="#e6e3ec" />
<circle cx="390.25" cy="205.82" r="0.6" fill="#e6e3ec" />
<circle cx="398.10" cy="205.82" r="1.45" fill="#a8a0c0" />
<circle cx="405.95" cy="205.82" r="0.6" fill="#e6e3ec" />
<circle cx="413.80" cy="205.82" r="0.6" fill="#e6e3ec" />
<circle cx="421.65" cy="205.82" r="2.65" fill="#5a4890" />
<circle cx="429.50" cy="205.82" r="0.6" fill="#e6e3ec" />
<circle cx="437.35" cy="205.82" r="0.6" fill="#e6e3ec" />
<circle cx="445.20" cy="205.82" r="3.15" fill="#b0a0d0" />
<circle cx="453.05" cy="205.82" r="3.55" fill="#c0b0d8" />
<circle cx="460.90" cy="205.82" r="3.15" fill="#b0a0d0" />
<circle cx="225.40" cy="214.89" r="0.6" fill="#e6e3ec" />
<circle cx="233.25" cy="214.89" r="0.6" fill="#e6e3ec" />
<circle cx="241.10" cy="214.89" r="0.6" fill="#e6e3ec" />
<circle cx="248.95" cy="214.89" r="0.6" fill="#e6e3ec" />
<circle cx="256.80" cy="214.89" r="0.6" fill="#e6e3ec" />
<circle cx="264.65" cy="214.89" r="0.6" fill="#e6e3ec" />
<circle cx="272.50" cy="214.89" r="0.6" fill="#e6e3ec" />
<circle cx="280.35" cy="214.89" r="0.6" fill="#e6e3ec" />
<circle cx="288.20" cy="214.89" r="0.6" fill="#e6e3ec" />
<circle cx="296.05" cy="214.89" r="0.6" fill="#e6e3ec" />
<circle cx="303.90" cy="214.89" r="1.25" fill="#999" />
<circle cx="311.75" cy="214.89" r="0.6" fill="#e6e3ec" />
<circle cx="319.60" cy="214.89" r="0.9" fill="#999" />
<circle cx="327.45" cy="214.89" r="0.6" fill="#e6e3ec" />
<circle cx="335.30" cy="214.89" r="0.6" fill="#e6e3ec" />
<circle cx="343.15" cy="214.89" r="0.6" fill="#e6e3ec" />
<circle cx="351.00" cy="214.89" r="0.6" fill="#e6e3ec" />
<circle cx="358.85" cy="214.89" r="0.6" fill="#e6e3ec" />
<circle cx="366.70" cy="214.89" r="0.6" fill="#e6e3ec" />
<circle cx="374.55" cy="214.89" r="0.6" fill="#e6e3ec" />
<circle cx="382.40" cy="214.89" r="0.6" fill="#e6e3ec" />
<circle cx="390.25" cy="214.89" r="0.6" fill="#e6e3ec" />
<circle cx="398.10" cy="214.89" r="1.45" fill="#999" />
<circle cx="405.95" cy="214.89" r="0.6" fill="#e6e3ec" />
<circle cx="413.80" cy="214.89" r="0.6" fill="#e6e3ec" />
<circle cx="421.65" cy="214.89" r="0.6" fill="#e6e3ec" />
<circle cx="429.50" cy="214.89" r="0.6" fill="#e6e3ec" />
<circle cx="437.35" cy="214.89" r="0.7" fill="#666" />
<circle cx="445.20" cy="214.89" r="0.6" fill="#e6e3ec" />
<circle cx="453.05" cy="214.89" r="0.6" fill="#e6e3ec" />
<circle cx="460.90" cy="214.89" r="0.6" fill="#e6e3ec" />
<line x1="220.60" y1="55.50" x2="220.60" y2="220.40" stroke="#231f20" stroke-width="1.0" />
<line x1="220.10" y1="220.40" x2="466.00" y2="220.40" stroke="#231f20" stroke-width="1.0" />
<line x1="217.80" y1="60.70" x2="220.60" y2="60.70" stroke="#231f20" stroke-width="1.0" />
<text x="214.40" y="63.00" font-size="6.6" fill="#231f20" text-anchor="end" stroke="#231f20" stroke-width="0.22" >12</text>
<line x1="217.80" y1="69.77" x2="220.60" y2="69.77" stroke="#231f20" stroke-width="1.0" />
<text x="214.40" y="72.07" font-size="6.6" fill="#231f20" text-anchor="end" stroke="#231f20" stroke-width="0.22" >8</text>
<line x1="217.80" y1="78.84" x2="220.60" y2="78.84" stroke="#231f20" stroke-width="1.0" />
<text x="214.40" y="81.14" font-size="6.6" fill="#231f20" text-anchor="end" stroke="#231f20" stroke-width="0.22" >15</text>
<line x1="217.80" y1="87.91" x2="220.60" y2="87.91" stroke="#231f20" stroke-width="1.0" />
<text x="214.40" y="90.21" font-size="6.6" fill="#231f20" text-anchor="end" stroke="#231f20" stroke-width="0.22" >0</text>
<line x1="217.80" y1="96.98" x2="220.60" y2="96.98" stroke="#231f20" stroke-width="1.0" />
<text x="214.40" y="99.28" font-size="6.6" fill="#231f20" text-anchor="end" stroke="#231f20" stroke-width="0.22" >10</text>
<line x1="217.80" y1="106.05" x2="220.60" y2="106.05" stroke="#231f20" stroke-width="1.0" />
<text x="214.40" y="108.35" font-size="6.6" fill="#231f20" text-anchor="end" stroke="#231f20" stroke-width="0.22" >9</text>
<line x1="217.80" y1="115.12" x2="220.60" y2="115.12" stroke="#231f20" stroke-width="1.0" />
<text x="214.40" y="117.42" font-size="6.6" fill="#231f20" text-anchor="end" stroke="#231f20" stroke-width="0.22" >13</text>
<line x1="217.80" y1="124.19" x2="220.60" y2="124.19" stroke="#231f20" stroke-width="1.0" />
<text x="214.40" y="126.49" font-size="6.6" fill="#231f20" text-anchor="end" stroke="#231f20" stroke-width="0.22" >6</text>
<line x1="217.80" y1="133.26" x2="220.60" y2="133.26" stroke="#231f20" stroke-width="1.0" />
<text x="214.40" y="135.56" font-size="6.6" fill="#231f20" text-anchor="end" stroke="#231f20" stroke-width="0.22" >2</text>
<line x1="217.80" y1="142.33" x2="220.60" y2="142.33" stroke="#231f20" stroke-width="1.0" />
<text x="214.40" y="144.63" font-size="6.6" fill="#231f20" text-anchor="end" stroke="#231f20" stroke-width="0.22" >14</text>
<line x1="217.80" y1="151.40" x2="220.60" y2="151.40" stroke="#231f20" stroke-width="1.0" />
<text x="214.40" y="153.70" font-size="6.6" fill="#231f20" text-anchor="end" stroke="#231f20" stroke-width="0.22" >1</text>
<line x1="217.80" y1="160.47" x2="220.60" y2="160.47" stroke="#231f20" stroke-width="1.0" />
<text x="214.40" y="162.77" font-size="6.6" fill="#231f20" text-anchor="end" stroke="#231f20" stroke-width="0.22" >7</text>
<line x1="217.80" y1="169.54" x2="220.60" y2="169.54" stroke="#231f20" stroke-width="1.0" />
<text x="214.40" y="171.84" font-size="6.6" fill="#231f20" text-anchor="end" stroke="#231f20" stroke-width="0.22" >5</text>
<line x1="217.80" y1="178.61" x2="220.60" y2="178.61" stroke="#231f20" stroke-width="1.0" />
<text x="214.40" y="180.91" font-size="6.6" fill="#231f20" text-anchor="end" stroke="#231f20" stroke-width="0.22" >3</text>
<line x1="217.80" y1="187.68" x2="220.60" y2="187.68" stroke="#231f20" stroke-width="1.0" />
<text x="214.40" y="189.98" font-size="6.6" fill="#231f20" text-anchor="end" stroke="#231f20" stroke-width="0.22" >16</text>
<line x1="217.80" y1="196.75" x2="220.60" y2="196.75" stroke="#231f20" stroke-width="1.0" />
<text x="214.40" y="199.05" font-size="6.6" fill="#231f20" text-anchor="end" stroke="#231f20" stroke-width="0.22" >11</text>
<line x1="217.80" y1="205.82" x2="220.60" y2="205.82" stroke="#231f20" stroke-width="1.0" />
<text x="214.40" y="208.12" font-size="6.6" fill="#231f20" text-anchor="end" stroke="#231f20" stroke-width="0.22" >17</text>
<line x1="217.80" y1="214.89" x2="220.60" y2="214.89" stroke="#231f20" stroke-width="1.0" />
<text x="214.40" y="217.19" font-size="6.6" fill="#231f20" text-anchor="end" stroke="#231f20" stroke-width="0.22" >4</text>
<line x1="225.40" y1="220.40" x2="225.40" y2="222.60" stroke="#231f20" stroke-width="0.8" />
<text x="226.70" y="226.30" font-size="6.5" fill="#231f20" text-anchor="end" transform="rotate(-90 226.70 226.30)" stroke="#231f20" stroke-width="0.22" >Cd34</text>
<line x1="233.25" y1="220.40" x2="233.25" y2="222.60" stroke="#231f20" stroke-width="0.8" />
<text x="234.55" y="226.30" font-size="6.5" fill="#231f20" text-anchor="end" transform="rotate(-90 234.55 226.30)" stroke="#231f20" stroke-width="0.22" >Ly6a</text>
<line x1="241.10" y1="220.40" x2="241.10" y2="222.60" stroke="#231f20" stroke-width="0.8" />
<text x="242.40" y="226.30" font-size="6.5" fill="#231f20" text-anchor="end" transform="rotate(-90 242.40 226.30)" stroke="#231f20" stroke-width="0.22" >Cd27</text>
<line x1="248.95" y1="220.40" x2="248.95" y2="222.60" stroke="#231f20" stroke-width="0.8" />
<text x="250.25" y="226.30" font-size="6.5" fill="#231f20" text-anchor="end" transform="rotate(-90 250.25 226.30)" stroke="#231f20" stroke-width="0.22" >Prss34</text>
<line x1="256.80" y1="220.40" x2="256.80" y2="222.60" stroke="#231f20" stroke-width="0.8" />
<text x="258.10" y="226.30" font-size="6.5" fill="#231f20" text-anchor="end" transform="rotate(-90 258.10 226.30)" stroke="#231f20" stroke-width="0.22" >Fcer1a</text>
<line x1="264.65" y1="220.40" x2="264.65" y2="222.60" stroke="#231f20" stroke-width="0.8" />
<text x="265.95" y="226.30" font-size="6.5" fill="#231f20" text-anchor="end" transform="rotate(-90 265.95 226.30)" stroke="#231f20" stroke-width="0.22" >Csrp3</text>
<line x1="272.50" y1="220.40" x2="272.50" y2="222.60" stroke="#231f20" stroke-width="0.8" />
<text x="273.80" y="226.30" font-size="6.5" fill="#231f20" text-anchor="end" transform="rotate(-90 273.80 226.30)" stroke="#231f20" stroke-width="0.22" >Kitl</text>
<line x1="280.35" y1="220.40" x2="280.35" y2="222.60" stroke="#231f20" stroke-width="0.8" />
<text x="281.65" y="226.30" font-size="6.5" fill="#231f20" text-anchor="end" transform="rotate(-90 281.65 226.30)" stroke="#231f20" stroke-width="0.22" >Itga2b</text>
<line x1="288.20" y1="220.40" x2="288.20" y2="222.60" stroke="#231f20" stroke-width="0.8" />
<text x="289.50" y="226.30" font-size="6.5" fill="#231f20" text-anchor="end" transform="rotate(-90 289.50 226.30)" stroke="#231f20" stroke-width="0.22" >Gp1ba</text>
<line x1="296.05" y1="220.40" x2="296.05" y2="222.60" stroke="#231f20" stroke-width="0.8" />
<text x="297.35" y="226.30" font-size="6.5" fill="#231f20" text-anchor="end" transform="rotate(-90 297.35 226.30)" stroke="#231f20" stroke-width="0.22" >Gata1</text>
<line x1="303.90" y1="220.40" x2="303.90" y2="222.60" stroke="#231f20" stroke-width="0.8" />
<text x="305.20" y="226.30" font-size="6.5" fill="#231f20" text-anchor="end" transform="rotate(-90 305.20 226.30)" stroke="#231f20" stroke-width="0.22" >Pf4</text>
<line x1="311.75" y1="220.40" x2="311.75" y2="222.60" stroke="#231f20" stroke-width="0.8" />
<text x="313.05" y="226.30" font-size="6.5" fill="#231f20" text-anchor="end" transform="rotate(-90 313.05 226.30)" stroke="#231f20" stroke-width="0.22" >Gp9</text>
<line x1="319.60" y1="220.40" x2="319.60" y2="222.60" stroke="#231f20" stroke-width="0.8" />
<text x="320.90" y="226.30" font-size="6.5" fill="#231f20" text-anchor="end" transform="rotate(-90 320.90 226.30)" stroke="#231f20" stroke-width="0.22" >Vwf</text>
<line x1="327.45" y1="220.40" x2="327.45" y2="222.60" stroke="#231f20" stroke-width="0.8" />
<text x="328.75" y="226.30" font-size="6.5" fill="#231f20" text-anchor="end" transform="rotate(-90 328.75 226.30)" stroke="#231f20" stroke-width="0.22" >Cd3e</text>
<line x1="335.30" y1="220.40" x2="335.30" y2="222.60" stroke="#231f20" stroke-width="0.8" />
<text x="336.60" y="226.30" font-size="6.5" fill="#231f20" text-anchor="end" transform="rotate(-90 336.60 226.30)" stroke="#231f20" stroke-width="0.22" >Cd3g</text>
<line x1="343.15" y1="220.40" x2="343.15" y2="222.60" stroke="#231f20" stroke-width="0.8" />
<text x="344.45" y="226.30" font-size="6.5" fill="#231f20" text-anchor="end" transform="rotate(-90 344.45 226.30)" stroke="#231f20" stroke-width="0.22" >Lck</text>
<line x1="351.00" y1="220.40" x2="351.00" y2="222.60" stroke="#231f20" stroke-width="0.8" />
<text x="352.30" y="226.30" font-size="6.5" fill="#231f20" text-anchor="end" transform="rotate(-90 352.30 226.30)" stroke="#231f20" stroke-width="0.22" >Cd79a</text>
<line x1="358.85" y1="220.40" x2="358.85" y2="222.60" stroke="#231f20" stroke-width="0.8" />
<text x="360.15" y="226.30" font-size="6.5" fill="#231f20" text-anchor="end" transform="rotate(-90 360.15 226.30)" stroke="#231f20" stroke-width="0.22" >Vpreb3</text>
<line x1="366.70" y1="220.40" x2="366.70" y2="222.60" stroke="#231f20" stroke-width="0.8" />
<text x="368.00" y="226.30" font-size="6.5" fill="#231f20" text-anchor="end" transform="rotate(-90 368.00 226.30)" stroke="#231f20" stroke-width="0.22" >Ebf1</text>
<line x1="374.55" y1="220.40" x2="374.55" y2="222.60" stroke="#231f20" stroke-width="0.8" />
<text x="375.85" y="226.30" font-size="6.5" fill="#231f20" text-anchor="end" transform="rotate(-90 375.85 226.30)" stroke="#231f20" stroke-width="0.22" >Mpo</text>
<line x1="382.40" y1="220.40" x2="382.40" y2="222.60" stroke="#231f20" stroke-width="0.8" />
<text x="383.70" y="226.30" font-size="6.5" fill="#231f20" text-anchor="end" transform="rotate(-90 383.70 226.30)" stroke="#231f20" stroke-width="0.22" >Elane</text>
<line x1="390.25" y1="220.40" x2="390.25" y2="222.60" stroke="#231f20" stroke-width="0.8" />
<text x="391.55" y="226.30" font-size="6.5" fill="#231f20" text-anchor="end" transform="rotate(-90 391.55 226.30)" stroke="#231f20" stroke-width="0.22" >Ms4a3</text>
<line x1="398.10" y1="220.40" x2="398.10" y2="222.60" stroke="#231f20" stroke-width="0.8" />
<text x="399.40" y="226.30" font-size="6.5" fill="#231f20" text-anchor="end" transform="rotate(-90 399.40 226.30)" stroke="#231f20" stroke-width="0.22" >Ms4a6c</text>
<line x1="405.95" y1="220.40" x2="405.95" y2="222.60" stroke="#231f20" stroke-width="0.8" />
<text x="407.25" y="226.30" font-size="6.5" fill="#231f20" text-anchor="end" transform="rotate(-90 407.25 226.30)" stroke="#231f20" stroke-width="0.22" >F13a1</text>
<line x1="413.80" y1="220.40" x2="413.80" y2="222.60" stroke="#231f20" stroke-width="0.8" />
<text x="415.10" y="226.30" font-size="6.5" fill="#231f20" text-anchor="end" transform="rotate(-90 415.10 226.30)" stroke="#231f20" stroke-width="0.22" >C1qc</text>
<line x1="421.65" y1="220.40" x2="421.65" y2="222.60" stroke="#231f20" stroke-width="0.8" />
<text x="422.95" y="226.30" font-size="6.5" fill="#231f20" text-anchor="end" transform="rotate(-90 422.95 226.30)" stroke="#231f20" stroke-width="0.22" >Ckb</text>
<line x1="429.50" y1="220.40" x2="429.50" y2="222.60" stroke="#231f20" stroke-width="0.8" />
<text x="430.80" y="226.30" font-size="6.5" fill="#231f20" text-anchor="end" transform="rotate(-90 430.80 226.30)" stroke="#231f20" stroke-width="0.22" >Ciita</text>
<line x1="437.35" y1="220.40" x2="437.35" y2="222.60" stroke="#231f20" stroke-width="0.8" />
<text x="438.65" y="226.30" font-size="6.5" fill="#231f20" text-anchor="end" transform="rotate(-90 438.65 226.30)" stroke="#231f20" stroke-width="0.22" >Batf3</text>
<line x1="445.20" y1="220.40" x2="445.20" y2="222.60" stroke="#231f20" stroke-width="0.8" />
<text x="446.50" y="226.30" font-size="6.5" fill="#231f20" text-anchor="end" transform="rotate(-90 446.50 226.30)" stroke="#231f20" stroke-width="0.22" >Ltf</text>
<line x1="453.05" y1="220.40" x2="453.05" y2="222.60" stroke="#231f20" stroke-width="0.8" />
<text x="454.35" y="226.30" font-size="6.5" fill="#231f20" text-anchor="end" transform="rotate(-90 454.35 226.30)" stroke="#231f20" stroke-width="0.22" >Camp</text>
<line x1="460.90" y1="220.40" x2="460.90" y2="222.60" stroke="#231f20" stroke-width="0.8" />
<text x="462.20" y="226.30" font-size="6.5" fill="#231f20" text-anchor="end" transform="rotate(-90 462.20 226.30)" stroke="#231f20" stroke-width="0.22" >Retnlg</text>
<text x="202.30" y="137.50" font-size="7.8" fill="#231f20" text-anchor="middle" textLength="21.0" lengthAdjust="spacingAndGlyphs" transform="rotate(-90 202.30 137.50)" stroke="#231f20" stroke-width="0.22" >Cluster</text>
<rect x="275.60" y="51.30" width="49.30" height="195.80" fill="none" stroke="#b8607e" stroke-width="1.25" />
<rect x="475.30" y="56.50" width="34.50" height="7.00" fill="#cf0a2c" stroke="none" stroke-width="0" />
<rect x="475.30" y="56.50" width="34.50" height="7.00" fill="#36ace0" stroke="none" stroke-width="0" />
<rect x="475.30" y="56.50" width="34.50" height="7.00" fill="none" stroke="#2a1418" stroke-width="0.7" />
<rect x="475.30" y="65.57" width="34.50" height="7.00" fill="#cf0a2c" stroke="none" stroke-width="0" />
<rect x="475.30" y="65.57" width="33.46" height="7.00" fill="#36ace0" stroke="none" stroke-width="0" />
<rect x="475.30" y="65.57" width="34.50" height="7.00" fill="none" stroke="#2a1418" stroke-width="0.7" />
<rect x="475.30" y="74.64" width="34.50" height="7.00" fill="#cf0a2c" stroke="none" stroke-width="0" />
<rect x="475.30" y="74.64" width="34.50" height="7.00" fill="none" stroke="#2a1418" stroke-width="0.7" />
<rect x="475.30" y="83.71" width="34.50" height="7.00" fill="#cf0a2c" stroke="none" stroke-width="0" />
<rect x="475.30" y="83.71" width="34.50" height="7.00" fill="none" stroke="#2a1418" stroke-width="0.7" />
<rect x="475.30" y="92.78" width="34.50" height="7.00" fill="#cf0a2c" stroke="none" stroke-width="0" />
<rect x="475.30" y="92.78" width="6.90" height="7.00" fill="#36ace0" stroke="none" stroke-width="0" />
<rect x="475.30" y="92.78" width="34.50" height="7.00" fill="none" stroke="#2a1418" stroke-width="0.7" />
<rect x="475.30" y="101.85" width="34.50" height="7.00" fill="#cf0a2c" stroke="none" stroke-width="0" />
<rect x="475.30" y="101.85" width="20.70" height="7.00" fill="#36ace0" stroke="none" stroke-width="0" />
<rect x="475.30" y="101.85" width="34.50" height="7.00" fill="none" stroke="#2a1418" stroke-width="0.7" />
<rect x="475.30" y="110.92" width="34.50" height="7.00" fill="#cf0a2c" stroke="none" stroke-width="0" />
<rect x="475.30" y="110.92" width="34.50" height="7.00" fill="none" stroke="#2a1418" stroke-width="0.7" />
<rect x="475.30" y="119.99" width="34.50" height="7.00" fill="#cf0a2c" stroke="none" stroke-width="0" />
<rect x="475.30" y="119.99" width="34.50" height="7.00" fill="none" stroke="#2a1418" stroke-width="0.7" />
<rect x="475.30" y="129.06" width="34.50" height="7.00" fill="#cf0a2c" stroke="none" stroke-width="0" />
<rect x="475.30" y="129.06" width="20.70" height="7.00" fill="#36ace0" stroke="none" stroke-width="0" />
<rect x="475.30" y="129.06" width="34.50" height="7.00" fill="none" stroke="#2a1418" stroke-width="0.7" />
<rect x="475.30" y="138.13" width="34.50" height="7.00" fill="#cf0a2c" stroke="none" stroke-width="0" />
<rect x="475.30" y="138.13" width="33.81" height="7.00" fill="#36ace0" stroke="none" stroke-width="0" />
<rect x="475.30" y="138.13" width="34.50" height="7.00" fill="none" stroke="#2a1418" stroke-width="0.7" />
<rect x="475.30" y="147.20" width="34.50" height="7.00" fill="#cf0a2c" stroke="none" stroke-width="0" />
<rect x="475.30" y="147.20" width="34.50" height="7.00" fill="#36ace0" stroke="none" stroke-width="0" />
<rect x="475.30" y="147.20" width="34.50" height="7.00" fill="none" stroke="#2a1418" stroke-width="0.7" />
<rect x="475.30" y="156.27" width="34.50" height="7.00" fill="#cf0a2c" stroke="none" stroke-width="0" />
<rect x="475.30" y="156.27" width="34.50" height="7.00" fill="none" stroke="#2a1418" stroke-width="0.7" />
<rect x="475.30" y="165.34" width="34.50" height="7.00" fill="#cf0a2c" stroke="none" stroke-width="0" />
<rect x="475.30" y="165.34" width="34.50" height="7.00" fill="none" stroke="#2a1418" stroke-width="0.7" />
<rect x="475.30" y="174.41" width="34.50" height="7.00" fill="#cf0a2c" stroke="none" stroke-width="0" />
<rect x="475.30" y="174.41" width="34.50" height="7.00" fill="none" stroke="#2a1418" stroke-width="0.7" />
<rect x="475.30" y="183.48" width="34.50" height="7.00" fill="#cf0a2c" stroke="none" stroke-width="0" />
<rect x="475.30" y="183.48" width="34.50" height="7.00" fill="none" stroke="#2a1418" stroke-width="0.7" />
<rect x="475.30" y="192.55" width="34.50" height="7.00" fill="#cf0a2c" stroke="none" stroke-width="0" />
<rect x="475.30" y="192.55" width="34.50" height="7.00" fill="#36ace0" stroke="none" stroke-width="0" />
<rect x="475.30" y="192.55" width="34.50" height="7.00" fill="none" stroke="#2a1418" stroke-width="0.7" />
<rect x="475.30" y="201.62" width="34.50" height="7.00" fill="#cf0a2c" stroke="none" stroke-width="0" />
<rect x="475.30" y="201.62" width="34.50" height="7.00" fill="#36ace0" stroke="none" stroke-width="0" />
<rect x="475.30" y="201.62" width="34.50" height="7.00" fill="none" stroke="#2a1418" stroke-width="0.7" />
<rect x="475.30" y="210.69" width="34.50" height="7.00" fill="#cf0a2c" stroke="none" stroke-width="0" />
<rect x="475.30" y="210.69" width="34.50" height="7.00" fill="#36ace0" stroke="none" stroke-width="0" />
<rect x="475.30" y="210.69" width="34.50" height="7.00" fill="none" stroke="#2a1418" stroke-width="0.7" />
<line x1="472.50" y1="220.40" x2="512.50" y2="220.40" stroke="#231f20" stroke-width="1.0" />
<line x1="475.30" y1="220.40" x2="475.30" y2="222.60" stroke="#231f20" stroke-width="0.8" />
<text x="477.50" y="226.30" font-size="6.3" fill="#231f20" text-anchor="end" transform="rotate(-90 477.50 226.30)" stroke="#231f20" stroke-width="0.22" >0.00</text>
<line x1="483.93" y1="220.40" x2="483.93" y2="222.60" stroke="#231f20" stroke-width="0.8" />
<text x="486.12" y="226.30" font-size="6.3" fill="#231f20" text-anchor="end" transform="rotate(-90 486.12 226.30)" stroke="#231f20" stroke-width="0.22" >0.25</text>
<line x1="492.55" y1="220.40" x2="492.55" y2="222.60" stroke="#231f20" stroke-width="0.8" />
<text x="494.75" y="226.30" font-size="6.3" fill="#231f20" text-anchor="end" transform="rotate(-90 494.75 226.30)" stroke="#231f20" stroke-width="0.22" >0.50</text>
<line x1="501.18" y1="220.40" x2="501.18" y2="222.60" stroke="#231f20" stroke-width="0.8" />
<text x="503.38" y="226.30" font-size="6.3" fill="#231f20" text-anchor="end" transform="rotate(-90 503.38 226.30)" stroke="#231f20" stroke-width="0.22" >0.75</text>
<line x1="509.80" y1="220.40" x2="509.80" y2="222.60" stroke="#231f20" stroke-width="0.8" />
<text x="512.00" y="226.30" font-size="6.3" fill="#231f20" text-anchor="end" transform="rotate(-90 512.00 226.30)" stroke="#231f20" stroke-width="0.22" >1.00</text>
<path d="M28.8,60.3 C31.5,58.6 34.6,56.8 36.4,53.6 C38.2,50.2 38.8,45.0 39.4,40.6 C40.0,36.6 42.4,32.6 45.8,30.0 C48.8,27.8 52.6,26.4 56.6,25.0" fill="none" stroke="#f2706a" stroke-width="2.9" stroke-linecap="round" stroke-linejoin="round"/>
<path d="M28.6,60.5 L32.6,57.8" fill="none" stroke="#18b0b8" stroke-width="2.2" stroke-linecap="round" stroke-linejoin="round"/>
<path d="M56.6,25.0 C60.0,24.0 63.5,23.6 66.5,24.2 L68.6,24.8" fill="none" stroke="#f2706a" stroke-width="1.9" stroke-linecap="round" stroke-linejoin="round"/>
<circle cx="71.20" cy="25.40" r="0.8" fill="#f2706a" />
<path d="M73.5,24.2 L78.6,24.0 L81.0,26.5 L82.0,30.0 L80.8,34.4 L77.4,37.8 L74.8,40.4 L73.0,44.5 L71.0,44.5 L72.8,38.0 L74.0,31.5 L73.4,27.0 Z" fill="#f2706a" stroke="#f2706a" stroke-width="0.6" stroke-linejoin="round"/>
<path d="M73.6,40.0 C72.6,45.0 71.4,50.0 69.9,55.0" fill="none" stroke="#f2706a" stroke-width="2.7" stroke-linecap="round" stroke-linejoin="round"/>
<path d="M69.9,55.0 C68.8,59.0 67.6,62.6 66.2,65.4 C64.8,68.4 63.6,70.6 62.8,73.6" fill="none" stroke="#f2706a" stroke-width="3.0" stroke-linecap="round" stroke-linejoin="round"/>
<path d="M55.0,76.8 L57.2,74.4 L60.0,74.8 L62.2,72.6 L64.6,73.6 L64.0,77.0 L61.6,78.0 L59.6,76.0 L57.6,77.2 L56.2,78.4 Z" fill="#f2706a" stroke="#f2706a" stroke-width="0.6" stroke-linejoin="round"/>
<circle cx="59.60" cy="76.60" r="0.6" fill="#ffffff" />
<path d="M62.6,77.0 L62.9,87.0" fill="none" stroke="#f2706a" stroke-width="2.0" stroke-linecap="round" stroke-linejoin="round"/>
<path d="M62.9,87.0 L63.4,95.0" fill="none" stroke="#18b0b8" stroke-width="1.8" stroke-linecap="round" stroke-linejoin="round"/>
<circle cx="64.80" cy="97.60" r="0.7" fill="#f2706a" />
<path d="M57.0,106.8 L59.2,105.3" fill="none" stroke="#18b0b8" stroke-width="1.2" stroke-linecap="round" stroke-linejoin="round"/>
<path d="M58.4,102.9 L61.6,102.2" fill="none" stroke="#18b0b8" stroke-width="1.2" stroke-linecap="round" stroke-linejoin="round"/>
<path d="M65.8,103.9 L66.2,102.2 L69.6,101.5 L72.0,103.6 L72.7,108.4 L73.6,112.0 L69.8,114.0 L68.9,110.5 L67.6,106.3 Z" fill="#18b0b8" stroke="#18b0b8" stroke-width="0.6" stroke-linejoin="round"/>
<path d="M73.6,112.0 L77.2,113.5 L82.7,114.2 L86.2,116.0 L87.5,118.7 L85.5,121.1 L82.0,122.8 L77.9,123.9 L73.8,122.2 L71.0,118.7 L69.6,115.3 L69.8,114.0 Z" fill="#18b0b8" stroke="#18b0b8" stroke-width="0.6" stroke-linejoin="round"/>
<path d="M66.6,107.8 L67.8,111.0" fill="none" stroke="#f2706a" stroke-width="1.8" stroke-linecap="round" stroke-linejoin="round"/>
<circle cx="66.50" cy="105.00" r="0.9" fill="#0a6a70" />
<circle cx="74.50" cy="114.90" r="1.2" fill="#ffffff" />
<circle cx="80.90" cy="52.60" r="1.7" fill="#f2706a" />
<path d="M80.2,65.6 L84.4,62.6" fill="none" stroke="#f2706a" stroke-width="1.1" stroke-linecap="round" stroke-linejoin="round"/>
<path d="M92.2,47.6 L93.6,45.5 L97.0,44.1 L101.0,44.2 L104.6,45.5 L106.3,50.3 L106.0,55.8 L104.2,58.8 L101.4,60.4 L99.4,59.6 L98.7,56.5 L96.3,51.7 L94.3,50.3 L92.5,49.6 Z" fill="#f2706a" stroke="#f2706a" stroke-width="0.6" stroke-linejoin="round"/>
<circle cx="91.20" cy="52.70" r="0.8" fill="#f090a8" />
<circle cx="91.20" cy="56.80" r="1.2" fill="#1a9a70" />
<circle cx="92.90" cy="60.00" r="1.5" fill="#f2706a" />
<path d="M94.3,66.0 L96.5,64.1 L98.7,66.5 L97.0,68.9 Z" fill="#f2706a" stroke="#f2706a" stroke-width="0.6" stroke-linejoin="round"/>
<circle cx="97.30" cy="62.70" r="0.7" fill="#f2706a" />
<path d="M97.1,69.6 L98.2,74.0 L99.2,78.6" fill="none" stroke="#8a8080" stroke-width="1.3" stroke-linecap="round" stroke-linejoin="round"/>
<circle cx="99.90" cy="82.30" r="2.8" fill="#18b0b8" />
<path d="M101.3,77.5 L104.8,72.6" fill="none" stroke="#7a9a9a" stroke-width="1.0" stroke-linecap="round" stroke-linejoin="round"/>
<path d="M76.2,81.6 L77.0,79.0 L79.4,77.8 L82.2,77.8 L85.4,75.8 L88.0,75.6 L86.6,78.0 L83.0,80.4 L80.6,82.8 L77.8,83.2 Z" fill="#18b0b8" stroke="#18b0b8" stroke-width="0.6" stroke-linejoin="round"/>
<path d="M126.4,59.0 L128.6,57.8 L131.0,59.4 L134.5,59.8 L137.5,58.6 L142.0,57.8 L142.2,59.6 L138.6,61.0 L136.0,61.8 L133.0,63.2 L131.0,64.2 L128.2,63.4 L126.4,61.6 Z" fill="#18b0b8" stroke="#18b0b8" stroke-width="0.6" stroke-linejoin="round"/>
<path d="M135.2,61.4 L137.6,61.0 L139.8,64.4 L139.2,68.6 L137.2,70.0 L134.6,73.0 L133.2,75.0 L132.2,73.6 L133.0,69.6 L132.0,66.6 L133.6,64.0 Z" fill="#18b0b8" stroke="#18b0b8" stroke-width="0.6" stroke-linejoin="round"/>
<circle cx="140.00" cy="71.00" r="0.7" fill="#555" />
<path d="M112.4,68.4 L116.6,71.2" fill="none" stroke="#18b0b8" stroke-width="1.2" stroke-linecap="round" stroke-linejoin="round"/>
<path d="M128.5,99.1 L130.6,97.0" fill="none" stroke="#18b0b8" stroke-width="1.2" stroke-linecap="round" stroke-linejoin="round"/>
<path d="M123.0,115.0 L125.4,113.6 L127.8,114.6 L127.2,117.0 L124.6,117.8 L122.8,116.6 Z" fill="#18b0b8" stroke="#18b0b8" stroke-width="0.6" stroke-linejoin="round"/>
<path d="M91.5,99.1 L93.6,102.6" fill="none" stroke="#6a8a90" stroke-width="1.1" stroke-linecap="round" stroke-linejoin="round"/>
<g transform="translate(0,109.3)">
<path d="M28.8,60.3 C31.5,58.6 34.6,56.8 36.4,53.6 C38.2,50.2 38.8,45.0 39.4,40.6 C39.8,38.0 40.6,36.4 41.6,35.0" fill="none" stroke="#b8a820" stroke-width="2.8" stroke-linecap="round" stroke-linejoin="round"/>
<path d="M41.6,35.0 C43.0,33.0 44.2,31.4 45.8,30.0 C48.8,27.8 52.6,26.4 56.6,25.0 C60.0,24.0 63.5,23.6 66.5,24.2 L68.6,24.8" fill="none" stroke="#74b428" stroke-width="2.8" stroke-linecap="round" stroke-linejoin="round"/>
<circle cx="71.20" cy="25.40" r="0.8" fill="#74b428" />
<path d="M73.5,24.2 L78.6,24.0 L81.0,26.5 L82.0,30.0 L80.8,34.4 L77.4,37.8 L74.8,40.4 L73.0,44.5 L71.0,44.5 L72.8,38.0 L74.0,31.5 L73.4,27.0 Z" fill="#1cb064" stroke="#1cb064" stroke-width="0.6" stroke-linejoin="round"/>
<path d="M73.6,40.0 C72.6,45.0 71.4,50.0 69.9,55.0" fill="none" stroke="#1cb064" stroke-width="2.7" stroke-linecap="round" stroke-linejoin="round"/>
<path d="M69.9,55.0 C68.8,59.0 67.6,62.6 66.2,65.4 C64.8,68.4 63.6,70.6 62.8,73.6" fill="none" stroke="#34b038" stroke-width="3.0" stroke-linecap="round" stroke-linejoin="round"/>
<path d="M55.0,76.8 L57.2,74.4 L60.0,74.8 L62.2,72.6 L64.6,73.6 L64.0,77.0 L61.6,78.0 L59.6,76.0 L57.6,77.2 L56.2,78.4 Z" fill="#34b038" stroke="#34b038" stroke-width="0.6" stroke-linejoin="round"/>
<circle cx="59.60" cy="76.60" r="0.6" fill="#ffffff" />
<path d="M62.6,77.0 L62.9,87.0" fill="none" stroke="#d08a14" stroke-width="2.0" stroke-linecap="round" stroke-linejoin="round"/>
<path d="M62.9,87.0 L63.4,95.0" fill="none" stroke="#d08a14" stroke-width="1.8" stroke-linecap="round" stroke-linejoin="round"/>
<circle cx="64.80" cy="97.60" r="0.7" fill="#d08a14" />
<path d="M57.0,106.8 L59.2,105.3" fill="none" stroke="#9590ff" stroke-width="1.2" stroke-linecap="round" stroke-linejoin="round"/>
<path d="M58.4,102.9 L61.6,102.2" fill="none" stroke="#9590ff" stroke-width="1.2" stroke-linecap="round" stroke-linejoin="round"/>
<path d="M65.8,103.9 L66.2,102.2 L69.6,101.5 L72.0,103.6 L72.7,108.4 L73.6,112.0 L69.8,114.0 L68.9,110.5 L67.6,106.3 Z" fill="#d08a14" stroke="#d08a14" stroke-width="0.6" stroke-linejoin="round"/>
<path d="M73.6,112.0 L77.2,113.5 L82.7,114.2 L86.2,116.0 L87.5,118.7 L85.5,121.1 L82.0,122.8 L77.9,123.9 L73.8,122.2 L71.0,118.7 L69.6,115.3 L69.8,114.0 Z" fill="#ec9030" stroke="#ec9030" stroke-width="0.6" stroke-linejoin="round"/>
<circle cx="74.50" cy="114.90" r="1.2" fill="#ffffff" />
<circle cx="80.90" cy="52.60" r="1.7" fill="#c77cff" />
<path d="M80.2,65.6 L84.4,62.6" fill="none" stroke="#2ec4dc" stroke-width="1.1" stroke-linecap="round" stroke-linejoin="round"/>
<path d="M92.2,47.6 L93.6,45.5 L97.0,44.1 L101.0,44.2 L104.6,45.5 L106.3,50.3 L106.0,55.8 L104.2,58.8 L101.4,60.4 L99.4,59.6 L98.7,56.5 L96.3,51.7 L94.3,50.3 L92.5,49.6 Z" fill="#f2766d" stroke="#f2766d" stroke-width="0.6" stroke-linejoin="round"/>
<path d="M92.6,50.8 C91.2,53.0 90.8,55.5 91.2,57.5 C91.8,59.5 93.0,61.0 93.8,62.2" fill="none" stroke="#2ec4dc" stroke-width="1.5" stroke-linecap="round" stroke-linejoin="round"/>
<path d="M94.3,66.0 L96.5,64.1 L98.7,66.5 L97.0,68.9 Z" fill="#3aa0f0" stroke="#3aa0f0" stroke-width="0.6" stroke-linejoin="round"/>
<circle cx="97.30" cy="62.70" r="0.7" fill="#3aa0f0" />
<path d="M97.1,69.6 L98.2,74.0 L99.2,78.6" fill="none" stroke="#08a0a0" stroke-width="1.3" stroke-linecap="round" stroke-linejoin="round"/>
<circle cx="99.90" cy="82.30" r="2.8" fill="#08a0a0" />
<path d="M101.3,77.5 L104.8,72.6" fill="none" stroke="#e76bf3" stroke-width="1.0" stroke-linecap="round" stroke-linejoin="round"/>
<path d="M76.8,82.4 L78.6,79.2 L81.6,78.6 L84.4,77.6 L87.0,75.8 L89.0,76.4 L86.6,78.8 L85.8,82.0 L83.6,85.0 L80.6,86.0 L77.6,85.2 Z" fill="#a0b418" stroke="#a0b418" stroke-width="0.6" stroke-linejoin="round"/>
<path d="M126.4,59.0 L128.6,57.8 L131.0,59.4 L134.5,59.8 L137.5,58.6 L142.0,57.8 L142.2,59.6 L138.6,61.0 L136.0,61.8 L133.0,63.2 L131.0,64.2 L128.2,63.4 L126.4,61.6 Z" fill="#1aa882" stroke="#1aa882" stroke-width="0.6" stroke-linejoin="round"/>
<path d="M134.6,62.6 L137.0,62.2 L139.2,64.8 L138.8,68.4 L136.8,70.0 L134.8,72.6 L133.6,74.8 L132.8,73.4 L133.4,69.6 L133.2,66.0 Z" fill="#5a84d4" stroke="#5a84d4" stroke-width="0.6" stroke-linejoin="round"/>
<circle cx="140.00" cy="71.00" r="0.7" fill="#555" />
<path d="M112.4,68.4 L116.6,71.2" fill="none" stroke="#5a84d4" stroke-width="1.2" stroke-linecap="round" stroke-linejoin="round"/>
<path d="M128.5,99.1 L130.6,97.0" fill="none" stroke="#fa62db" stroke-width="1.2" stroke-linecap="round" stroke-linejoin="round"/>
<path d="M123.0,115.0 L125.4,113.6 L127.8,114.6 L127.2,117.0 L124.6,117.8 L122.8,116.6 Z" fill="#14a0dc" stroke="#14a0dc" stroke-width="0.6" stroke-linejoin="round"/>
<path d="M91.5,99.1 L93.6,102.6" fill="none" stroke="#2ec4dc" stroke-width="1.1" stroke-linecap="round" stroke-linejoin="round"/>
</g>
<text x="63.70" y="55.00" font-size="10.8" fill="#111" textLength="15.8" lengthAdjust="spacingAndGlyphs" stroke="#111" stroke-width="0.22" >BM</text>
<text x="70.80" y="89.00" font-size="10.8" fill="#111" textLength="23.2" lengthAdjust="spacingAndGlyphs" stroke="#111" stroke-width="0.22" >Lung</text>
<text x="52.60" y="138.00" font-size="6.0" fill="#3a5a10" text-anchor="middle" font-weight="bold" >5</text>
<text x="77.70" y="141.40" font-size="6.0" fill="#0a5a20" text-anchor="middle" font-weight="bold" >7</text>
<text x="39.00" y="158.80" font-size="6.0" fill="#5a4a08" text-anchor="middle" font-weight="bold" >3</text>
<text x="80.60" y="163.70" font-size="6.0" fill="#5a2068" text-anchor="middle" font-weight="bold" >15</text>
<text x="100.70" y="161.00" font-size="6.0" fill="#7a2a20" text-anchor="middle" font-weight="bold" >0</text>
<text x="92.00" y="174.80" font-size="6.0" fill="#123a5a" text-anchor="middle" font-weight="bold" >10</text>
<text x="96.40" y="178.60" font-size="6.0" fill="#2a3a8a" text-anchor="middle" font-weight="bold" >13</text>
<text x="130.80" y="172.20" font-size="6.0" fill="#0a5a40" text-anchor="middle" font-weight="bold" >8</text>
<text x="137.70" y="178.20" font-size="6.0" fill="#1a3a7a" text-anchor="middle" font-weight="bold" >12</text>
<text x="66.00" y="178.10" font-size="6.0" fill="#1a5a10" text-anchor="middle" font-weight="bold" >6</text>
<text x="104.10" y="186.00" font-size="6.0" fill="#7a2a7a" text-anchor="middle" font-weight="bold" >16</text>
<text x="81.60" y="193.70" font-size="6.0" fill="#4a4a08" text-anchor="middle" font-weight="bold" >4</text>
<text x="100.30" y="193.40" font-size="6.0" fill="#0a4a4a" text-anchor="middle" font-weight="bold" >9</text>
<text x="60.20" y="214.10" font-size="6.0" fill="#4a3a7a" text-anchor="middle" font-weight="bold" >14</text>
<text x="69.70" y="216.70" font-size="6.0" fill="#6a4008" text-anchor="middle" font-weight="bold" >2</text>
<text x="130.60" y="209.30" font-size="6.0" fill="#7a2a5a" text-anchor="middle" font-weight="bold" >17</text>
<text x="80.90" y="229.70" font-size="6.0" fill="#6a3a08" text-anchor="middle" font-weight="bold" >1</text>
<text x="124.90" y="227.10" font-size="6.0" fill="#0a4a7a" text-anchor="middle" font-weight="bold" >11</text>
<path d="M27.3,234.0 L27.3,213.0 M49.0,234.0 L26.7,234.0" fill="none" stroke="#231f20" stroke-width="1.15"/>
<path d="M27.3,210.8 L25.4,214.8 L29.2,214.8 Z M50.8,234.0 L46.8,232.1 L46.8,235.9 Z" fill="#231f20"/>
<text x="23.20" y="222.20" font-size="7.8" fill="#231f20" text-anchor="middle" textLength="23.6" lengthAdjust="spacingAndGlyphs" transform="rotate(-90 23.20 222.20)" stroke="#231f20" stroke-width="0.22" >UMAP-2</text>
<text x="38.60" y="243.80" font-size="7.8" fill="#231f20" text-anchor="middle" textLength="23.4" lengthAdjust="spacingAndGlyphs" stroke="#231f20" stroke-width="0.22" >UMAP-1</text>
<circle cx="32.40" cy="360.00" r="0.8" fill="#74c4ea" />
<circle cx="32.40" cy="358.82" r="0.8" fill="#74c4ea" />
<circle cx="32.40" cy="357.64" r="0.8" fill="#74c4ea" />
<circle cx="32.40" cy="356.46" r="0.8" fill="#74c4ea" />
<circle cx="32.40" cy="355.28" r="0.8" fill="#74c4ea" />
<circle cx="32.40" cy="354.10" r="0.8" fill="#74c4ea" />
<circle cx="32.40" cy="352.92" r="0.8" fill="#74c4ea" />
<circle cx="32.40" cy="351.74" r="0.8" fill="#74c4ea" />
<circle cx="32.40" cy="350.56" r="0.8" fill="#74c4ea" />
<circle cx="32.40" cy="349.38" r="0.8" fill="#74c4ea" />
<circle cx="32.40" cy="348.21" r="0.8" fill="#74c4ea" />
<circle cx="32.40" cy="347.03" r="0.8" fill="#74c4ea" />
<circle cx="32.40" cy="345.85" r="0.8" fill="#74c4ea" />
<circle cx="32.40" cy="344.67" r="0.8" fill="#74c4ea" />
<circle cx="32.40" cy="343.49" r="0.8" fill="#74c4ea" />
<circle cx="32.40" cy="342.31" r="0.8" fill="#74c4ea" />
<circle cx="32.40" cy="341.13" r="0.8" fill="#74c4ea" />
<circle cx="32.40" cy="339.95" r="0.8" fill="#74c4ea" />
<circle cx="32.40" cy="338.77" r="0.8" fill="#74c4ea" />
<circle cx="32.40" cy="337.59" r="0.8" fill="#74c4ea" />
<circle cx="32.40" cy="336.42" r="0.8" fill="#74c4ea" />
<circle cx="32.40" cy="335.24" r="0.8" fill="#74c4ea" />
<circle cx="48.82" cy="359.34" r="0.8" fill="#74c4ea" />
<circle cx="48.82" cy="358.16" r="0.8" fill="#74c4ea" />
<circle cx="48.82" cy="356.98" r="0.8" fill="#74c4ea" />
<circle cx="48.82" cy="355.80" r="0.8" fill="#74c4ea" />
<circle cx="48.82" cy="354.62" r="0.8" fill="#74c4ea" />
<circle cx="48.82" cy="353.44" r="0.8" fill="#74c4ea" />
<circle cx="48.82" cy="352.27" r="0.8" fill="#74c4ea" />
<circle cx="48.82" cy="351.09" r="0.8" fill="#74c4ea" />
<circle cx="48.82" cy="349.91" r="0.8" fill="#74c4ea" />
<circle cx="48.82" cy="348.73" r="0.8" fill="#74c4ea" />
<circle cx="48.82" cy="347.55" r="0.8" fill="#74c4ea" />
<circle cx="48.82" cy="346.37" r="0.8" fill="#74c4ea" />
<circle cx="48.82" cy="345.19" r="0.8" fill="#74c4ea" />
<circle cx="48.82" cy="344.01" r="0.8" fill="#74c4ea" />
<circle cx="48.82" cy="342.83" r="0.8" fill="#74c4ea" />
<circle cx="48.82" cy="341.66" r="0.8" fill="#74c4ea" />
<circle cx="48.82" cy="340.48" r="0.8" fill="#74c4ea" />
<circle cx="48.82" cy="339.30" r="0.8" fill="#74c4ea" />
<circle cx="48.82" cy="338.12" r="0.8" fill="#74c4ea" />
<circle cx="58.58" cy="354.10" r="0.8" fill="#74c4ea" />
<circle cx="58.58" cy="352.92" r="0.8" fill="#74c4ea" />
<circle cx="58.58" cy="351.74" r="0.8" fill="#74c4ea" />
<circle cx="58.58" cy="350.56" r="0.8" fill="#74c4ea" />
<circle cx="58.58" cy="349.38" r="0.8" fill="#74c4ea" />
<circle cx="58.58" cy="348.21" r="0.8" fill="#74c4ea" />
<circle cx="58.58" cy="347.03" r="0.8" fill="#74c4ea" />
<circle cx="58.58" cy="345.85" r="0.8" fill="#74c4ea" />
<circle cx="58.58" cy="344.67" r="0.8" fill="#74c4ea" />
<circle cx="58.58" cy="343.49" r="0.8" fill="#74c4ea" />
<circle cx="58.58" cy="342.31" r="0.8" fill="#74c4ea" />
<circle cx="58.58" cy="341.13" r="0.8" fill="#74c4ea" />
<circle cx="58.58" cy="339.95" r="0.8" fill="#74c4ea" />
<circle cx="58.58" cy="338.77" r="0.8" fill="#74c4ea" />
<circle cx="58.58" cy="337.59" r="0.8" fill="#74c4ea" />
<circle cx="58.58" cy="336.42" r="0.8" fill="#74c4ea" />
<circle cx="58.58" cy="335.24" r="0.8" fill="#74c4ea" />
<circle cx="58.58" cy="334.06" r="0.8" fill="#74c4ea" />
<circle cx="58.58" cy="332.88" r="0.8" fill="#74c4ea" />
<circle cx="58.58" cy="331.70" r="0.8" fill="#74c4ea" />
<circle cx="58.58" cy="330.52" r="0.8" fill="#74c4ea" />
<circle cx="58.58" cy="329.34" r="0.8" fill="#74c4ea" />
<circle cx="58.58" cy="328.16" r="0.8" fill="#74c4ea" />
<circle cx="32.40" cy="380.30" r="0.95" fill="#2f9ad6" />
<circle cx="32.40" cy="371.26" r="0.95" fill="#2f9ad6" />
<circle cx="32.40" cy="365.89" r="0.95" fill="#2f9ad6" />
<circle cx="32.40" cy="362.09" r="0.95" fill="#2f9ad6" />
<circle cx="32.40" cy="359.21" r="0.95" fill="#2f9ad6" />
<circle cx="32.40" cy="356.85" r="0.95" fill="#2f9ad6" />
<circle cx="32.40" cy="354.75" r="0.95" fill="#2f9ad6" />
<circle cx="32.40" cy="353.05" r="0.95" fill="#2f9ad6" />
<circle cx="32.40" cy="351.48" r="0.95" fill="#2f9ad6" />
<circle cx="32.40" cy="350.17" r="0.95" fill="#2f9ad6" />
<circle cx="32.40" cy="348.86" r="0.95" fill="#2f9ad6" />
<circle cx="32.40" cy="347.81" r="0.95" fill="#2f9ad6" />
<circle cx="32.40" cy="346.76" r="0.95" fill="#2f9ad6" />
<circle cx="32.40" cy="345.72" r="0.95" fill="#2f9ad6" />
<circle cx="32.40" cy="344.80" r="0.95" fill="#2f9ad6" />
<circle cx="32.40" cy="344.01" r="0.95" fill="#2f9ad6" />
<circle cx="32.40" cy="343.23" r="0.95" fill="#2f9ad6" />
<circle cx="32.40" cy="342.44" r="0.95" fill="#2f9ad6" />
<circle cx="32.40" cy="341.79" r="0.95" fill="#2f9ad6" />
<circle cx="32.40" cy="341.00" r="0.95" fill="#2f9ad6" />
<circle cx="32.40" cy="340.48" r="0.95" fill="#2f9ad6" />
<circle cx="32.40" cy="339.82" r="0.95" fill="#2f9ad6" />
<circle cx="32.40" cy="339.17" r="0.95" fill="#2f9ad6" />
<circle cx="32.40" cy="338.64" r="0.95" fill="#2f9ad6" />
<circle cx="32.40" cy="338.12" r="0.95" fill="#2f9ad6" />
<circle cx="32.40" cy="337.59" r="0.95" fill="#2f9ad6" />
<circle cx="32.40" cy="337.07" r="0.95" fill="#2f9ad6" />
<circle cx="32.40" cy="336.68" r="0.95" fill="#2f9ad6" />
<circle cx="32.40" cy="336.15" r="0.95" fill="#2f9ad6" />
<circle cx="32.40" cy="335.76" r="0.95" fill="#2f9ad6" />
<circle cx="32.40" cy="335.37" r="0.95" fill="#2f9ad6" />
<circle cx="32.40" cy="334.84" r="0.95" fill="#2f9ad6" />
<circle cx="32.40" cy="334.45" r="0.95" fill="#2f9ad6" />
<circle cx="32.40" cy="333.40" r="0.95" fill="#2f9ad6" />
<circle cx="32.40" cy="332.35" r="0.95" fill="#2f9ad6" />
<circle cx="32.40" cy="331.31" r="0.95" fill="#2f9ad6" />
<circle cx="32.40" cy="329.87" r="0.95" fill="#2f9ad6" />
<circle cx="32.40" cy="328.29" r="0.95" fill="#2f9ad6" />
<circle cx="32.40" cy="326.59" r="0.95" fill="#2f9ad6" />
<circle cx="32.40" cy="325.28" r="0.95" fill="#2f9ad6" />
<circle cx="32.40" cy="323.31" r="0.95" fill="#c8102e" />
<circle cx="32.40" cy="333.80" r="0.95" fill="#c8102e" />
<circle cx="48.82" cy="380.30" r="0.95" fill="#2f9ad6" />
<circle cx="48.82" cy="371.26" r="0.95" fill="#2f9ad6" />
<circle cx="48.82" cy="365.89" r="0.95" fill="#2f9ad6" />
<circle cx="48.82" cy="362.09" r="0.95" fill="#2f9ad6" />
<circle cx="48.82" cy="359.21" r="0.95" fill="#2f9ad6" />
<circle cx="48.82" cy="356.85" r="0.95" fill="#2f9ad6" />
<circle cx="48.82" cy="354.75" r="0.95" fill="#2f9ad6" />
<circle cx="48.82" cy="353.05" r="0.95" fill="#2f9ad6" />
<circle cx="48.82" cy="351.48" r="0.95" fill="#2f9ad6" />
<circle cx="48.82" cy="350.17" r="0.95" fill="#2f9ad6" />
<circle cx="48.82" cy="348.86" r="0.95" fill="#2f9ad6" />
<circle cx="48.82" cy="347.81" r="0.95" fill="#2f9ad6" />
<circle cx="48.82" cy="346.76" r="0.95" fill="#2f9ad6" />
<circle cx="48.82" cy="345.72" r="0.95" fill="#2f9ad6" />
<circle cx="48.82" cy="344.80" r="0.95" fill="#2f9ad6" />
<circle cx="48.82" cy="344.01" r="0.95" fill="#2f9ad6" />
<circle cx="48.82" cy="343.23" r="0.95" fill="#2f9ad6" />
<circle cx="48.82" cy="342.44" r="0.95" fill="#2f9ad6" />
<circle cx="48.82" cy="341.79" r="0.95" fill="#2f9ad6" />
<circle cx="48.82" cy="341.00" r="0.95" fill="#2f9ad6" />
<circle cx="48.82" cy="339.82" r="0.95" fill="#2f9ad6" />
<circle cx="48.82" cy="338.64" r="0.95" fill="#2f9ad6" />
<circle cx="48.82" cy="337.59" r="0.95" fill="#2f9ad6" />
<circle cx="48.82" cy="336.68" r="0.95" fill="#2f9ad6" />
<circle cx="48.82" cy="342.31" r="0.95" fill="#c8102e" />
<circle cx="48.82" cy="341.00" r="0.95" fill="#c8102e" />
<circle cx="48.82" cy="339.69" r="0.95" fill="#c8102e" />
<circle cx="58.58" cy="380.30" r="0.95" fill="#2f9ad6" />
<circle cx="58.58" cy="371.26" r="0.95" fill="#2f9ad6" />
<circle cx="58.58" cy="365.89" r="0.95" fill="#2f9ad6" />
<circle cx="58.58" cy="362.09" r="0.95" fill="#2f9ad6" />
<circle cx="58.58" cy="359.21" r="0.95" fill="#2f9ad6" />
<circle cx="58.58" cy="356.85" r="0.95" fill="#2f9ad6" />
<circle cx="58.58" cy="354.75" r="0.95" fill="#2f9ad6" />
<circle cx="58.58" cy="353.05" r="0.95" fill="#2f9ad6" />
<circle cx="58.58" cy="351.48" r="0.95" fill="#2f9ad6" />
<circle cx="58.58" cy="350.17" r="0.95" fill="#2f9ad6" />
<circle cx="58.58" cy="348.86" r="0.95" fill="#2f9ad6" />
<circle cx="58.58" cy="347.81" r="0.95" fill="#2f9ad6" />
<circle cx="58.58" cy="346.76" r="0.95" fill="#2f9ad6" />
<circle cx="58.58" cy="345.72" r="0.95" fill="#2f9ad6" />
<circle cx="58.58" cy="344.80" r="0.95" fill="#2f9ad6" />
<circle cx="58.58" cy="344.01" r="0.95" fill="#2f9ad6" />
<circle cx="58.58" cy="343.23" r="0.95" fill="#2f9ad6" />
<circle cx="58.58" cy="342.44" r="0.95" fill="#2f9ad6" />
<circle cx="58.58" cy="341.79" r="0.95" fill="#2f9ad6" />
<circle cx="58.58" cy="341.00" r="0.95" fill="#2f9ad6" />
<circle cx="58.58" cy="340.48" r="0.95" fill="#2f9ad6" />
<circle cx="58.58" cy="339.82" r="0.95" fill="#2f9ad6" />
<circle cx="58.58" cy="339.17" r="0.95" fill="#2f9ad6" />
<circle cx="58.58" cy="338.64" r="0.95" fill="#2f9ad6" />
<circle cx="58.58" cy="338.12" r="0.95" fill="#2f9ad6" />
<circle cx="58.58" cy="337.07" r="0.95" fill="#2f9ad6" />
<circle cx="58.58" cy="335.76" r="0.95" fill="#2f9ad6" />
<circle cx="58.58" cy="334.45" r="0.95" fill="#2f9ad6" />
<circle cx="58.58" cy="333.14" r="0.95" fill="#2f9ad6" />
<circle cx="58.58" cy="331.83" r="0.95" fill="#2f9ad6" />
<circle cx="58.58" cy="329.87" r="0.95" fill="#2f9ad6" />
<circle cx="58.58" cy="326.59" r="0.95" fill="#2f9ad6" />
<circle cx="58.58" cy="345.72" r="0.95" fill="#c8102e" />
<circle cx="58.58" cy="344.01" r="0.95" fill="#c8102e" />
<circle cx="58.58" cy="342.44" r="0.95" fill="#c8102e" />
<circle cx="58.58" cy="341.00" r="0.95" fill="#c8102e" />
<circle cx="58.58" cy="339.82" r="0.95" fill="#c8102e" />
<circle cx="58.58" cy="338.64" r="0.95" fill="#c8102e" />
<circle cx="58.58" cy="326.59" r="0.95" fill="#c8102e" />
<circle cx="65.48" cy="327.25" r="0.95" fill="#c8102e" />
<circle cx="65.48" cy="338.38" r="0.95" fill="#c8102e" />
<circle cx="65.48" cy="341.00" r="0.95" fill="#c8102e" />
<circle cx="65.48" cy="344.93" r="0.95" fill="#c8102e" />
<circle cx="65.48" cy="347.81" r="0.95" fill="#c8102e" />
<circle cx="65.48" cy="351.48" r="0.95" fill="#c8102e" />
<circle cx="70.72" cy="330.52" r="0.95" fill="#c8102e" />
<circle cx="70.72" cy="333.14" r="0.95" fill="#c8102e" />
<circle cx="70.72" cy="339.69" r="0.95" fill="#c8102e" />
<circle cx="70.72" cy="343.62" r="0.95" fill="#c8102e" />
<circle cx="70.72" cy="346.24" r="0.95" fill="#c8102e" />
<circle cx="75.00" cy="329.21" r="0.95" fill="#c8102e" />
<circle cx="75.00" cy="337.07" r="0.95" fill="#c8102e" />
<circle cx="75.00" cy="342.31" r="0.95" fill="#c8102e" />
<circle cx="75.00" cy="344.28" r="0.95" fill="#c8102e" />
<circle cx="78.81" cy="326.59" r="0.95" fill="#c8102e" />
<circle cx="78.81" cy="337.07" r="0.95" fill="#c8102e" />
<circle cx="78.81" cy="342.31" r="0.95" fill="#c8102e" />
<circle cx="81.90" cy="325.94" r="0.95" fill="#c8102e" />
<circle cx="81.90" cy="333.14" r="0.95" fill="#c8102e" />
<circle cx="81.90" cy="344.28" r="0.95" fill="#c8102e" />
<circle cx="84.76" cy="337.07" r="0.95" fill="#c8102e" />
<circle cx="84.76" cy="333.14" r="0.95" fill="#c8102e" />
<circle cx="89.52" cy="333.14" r="0.95" fill="#c8102e" />
<circle cx="93.33" cy="334.45" r="0.95" fill="#c8102e" />
<circle cx="96.90" cy="329.21" r="0.95" fill="#c8102e" />
<circle cx="91.66" cy="352.79" r="0.95" fill="#c8102e" />
<circle cx="70.72" cy="336.42" r="0.95" fill="#c8102e" />
<circle cx="87.14" cy="341.00" r="0.95" fill="#c8102e" />
<circle cx="70.72" cy="341.00" r="0.95" fill="#2f9ad6" />
<circle cx="75.00" cy="334.45" r="0.95" fill="#2f9ad6" />
<circle cx="70.72" cy="348.86" r="0.95" fill="#2f9ad6" />
<circle cx="75.00" cy="347.55" r="0.95" fill="#2f9ad6" />
<circle cx="65.48" cy="342.31" r="0.95" fill="#2f9ad6" />
<path d="M95.3,324.6 L99.6,326.4 L95.6,328.8 Z" fill="#c8102e"/>
<path d="M54.0,319.8 L101.3,319.8 L101.3,331.3 L81.9,351.9 L54.0,351.9 Z" fill="none" stroke="#222" stroke-width="1.0" stroke-dasharray="2.3,1.5"/>
<line x1="29.30" y1="321.90" x2="29.30" y2="383.40" stroke="#231f20" stroke-width="1.3" />
<line x1="28.70" y1="382.80" x2="101.40" y2="382.80" stroke="#231f20" stroke-width="1.3" />
<line x1="26.00" y1="380.30" x2="29.30" y2="380.30" stroke="#231f20" stroke-width="1.1" />
<text x="22.80" y="382.50" font-size="6.3" fill="#333" text-anchor="end" stroke="#333" stroke-width="0.22" >0</text>
<line x1="26.00" y1="367.20" x2="29.30" y2="367.20" stroke="#231f20" stroke-width="1.1" />
<text x="22.80" y="369.40" font-size="6.3" fill="#333" text-anchor="end" stroke="#333" stroke-width="0.22" >1</text>
<line x1="26.00" y1="354.10" x2="29.30" y2="354.10" stroke="#231f20" stroke-width="1.1" />
<text x="22.80" y="356.30" font-size="6.3" fill="#333" text-anchor="end" stroke="#333" stroke-width="0.22" >2</text>
<line x1="26.00" y1="341.00" x2="29.30" y2="341.00" stroke="#231f20" stroke-width="1.1" />
<text x="22.80" y="343.20" font-size="6.3" fill="#333" text-anchor="end" stroke="#333" stroke-width="0.22" >3</text>
<line x1="26.00" y1="327.90" x2="29.30" y2="327.90" stroke="#231f20" stroke-width="1.1" />
<text x="22.80" y="330.10" font-size="6.3" fill="#333" text-anchor="end" stroke="#333" stroke-width="0.22" >4</text>
<line x1="32.40" y1="382.80" x2="32.40" y2="385.70" stroke="#231f20" stroke-width="1.1" />
<text x="32.40" y="395.00" font-size="6.6" fill="#231f20" text-anchor="middle" stroke="#231f20" stroke-width="0.22" >0</text>
<line x1="56.20" y1="382.80" x2="56.20" y2="385.70" stroke="#231f20" stroke-width="1.1" />
<text x="56.20" y="395.00" font-size="6.6" fill="#231f20" text-anchor="middle" stroke="#231f20" stroke-width="0.22" >1</text>
<line x1="80.00" y1="382.80" x2="80.00" y2="385.70" stroke="#231f20" stroke-width="1.1" />
<text x="80.00" y="395.00" font-size="6.6" fill="#231f20" text-anchor="middle" stroke="#231f20" stroke-width="0.22" >2</text>
<text x="15.40" y="353.10" font-size="7.6" fill="#231f20" text-anchor="middle" textLength="20.0" lengthAdjust="spacingAndGlyphs" transform="rotate(-90 15.40 353.10)" stroke="#231f20" stroke-width="0.22" >Itga2b</text>
<text x="64.80" y="406.60" font-size="7.4" fill="#231f20" text-anchor="middle" textLength="20.2" lengthAdjust="spacingAndGlyphs" stroke="#231f20" stroke-width="0.22" >Gp1ba</text>
<circle cx="45.50" cy="418.60" r="0.9" fill="#c8102e" />
<text x="49.70" y="421.00" font-size="6.6" fill="#231f20" stroke="#231f20" stroke-width="0.22" >BM</text>
<circle cx="67.20" cy="418.60" r="0.9" fill="#2f9ad6" />
<text x="70.80" y="421.00" font-size="6.6" fill="#231f20" textLength="14.4" lengthAdjust="spacingAndGlyphs" stroke="#231f20" stroke-width="0.22" >Lung</text>
<path d="M120.8,315.4 L400.5,315.4" stroke="#231f20" stroke-width="1.0"/>
<path d="M404.8,315.4 L399.0,313.1 L399.0,317.7 Z" fill="#231f20"/>
<path d="M269.6,315.4 L269.6,329.5" stroke="#231f20" stroke-width="1.0"/>
<path d="M269.6,332.4 L267.5,327.6 L271.7,327.6 Z" fill="#231f20"/>
<text x="232.30" y="309.50" font-size="7.8" fill="#231f20" textLength="21.2" lengthAdjust="spacingAndGlyphs" stroke="#231f20" stroke-width="0.22" >CD41</text>
<text x="254.70" y="306.40" font-size="5.2" fill="#231f20" textLength="3.0" lengthAdjust="spacingAndGlyphs" stroke="#231f20" stroke-width="0.22" >+</text>
<text x="258.00" y="309.50" font-size="7.8" fill="#231f20" textLength="29.9" lengthAdjust="spacingAndGlyphs" stroke="#231f20" stroke-width="0.22" >/CD42b</text>
<text x="289.00" y="306.40" font-size="5.2" fill="#231f20" textLength="3.0" lengthAdjust="spacingAndGlyphs" stroke="#231f20" stroke-width="0.22" >+</text>
<circle cx="146.60" cy="368.60" r="3.4000000000000004" fill="#8a70b8" />
<circle cx="159.55" cy="368.60" r="3.4000000000000004" fill="#8068b0" />
<circle cx="172.50" cy="368.60" r="2.8000000000000003" fill="#7a60a8" />
<circle cx="185.45" cy="368.60" r="3.5" fill="#3a1a80" />
<circle cx="198.40" cy="368.60" r="3.2" fill="#9080c0" />
<circle cx="211.35" cy="368.60" r="3.4000000000000004" fill="#5a3a98" />
<circle cx="224.30" cy="368.60" r="0.6" fill="#e6e3ec" />
<circle cx="237.25" cy="368.60" r="0.6" fill="#e6e3ec" />
<circle cx="250.20" cy="368.60" r="0.6" fill="#e6e3ec" />
<circle cx="263.15" cy="368.60" r="0.6" fill="#e6e3ec" />
<circle cx="276.10" cy="368.60" r="3.2" fill="#d8d4d8" />
<circle cx="289.05" cy="368.60" r="0.6" fill="#e6e3ec" />
<circle cx="302.00" cy="368.60" r="0.6" fill="#e6e3ec" />
<circle cx="314.95" cy="368.60" r="0.6" fill="#e6e3ec" />
<circle cx="327.90" cy="368.60" r="0.6" fill="#e6e3ec" />
<circle cx="340.85" cy="368.60" r="0.6" fill="#e6e3ec" />
<circle cx="353.80" cy="368.60" r="0.6" fill="#e6e3ec" />
<circle cx="146.60" cy="376.65" r="3.5" fill="#321c7e" />
<circle cx="159.55" cy="376.65" r="3.5" fill="#321c7e" />
<circle cx="172.50" cy="376.65" r="2.4000000000000004" fill="#2a1070" />
<circle cx="185.45" cy="376.65" r="3.2" fill="#8a70b8" />
<circle cx="198.40" cy="376.65" r="2.4000000000000004" fill="#7a68a8" />
<circle cx="211.35" cy="376.65" r="3.4000000000000004" fill="#4a2890" />
<circle cx="224.30" cy="376.65" r="0.6" fill="#e6e3ec" />
<circle cx="237.25" cy="376.65" r="0.6" fill="#e6e3ec" />
<circle cx="250.20" cy="376.65" r="0.7" fill="#777" />
<circle cx="263.15" cy="376.65" r="1.8" fill="#9080b8" />
<circle cx="276.10" cy="376.65" r="2.7" fill="#a090c8" />
<circle cx="289.05" cy="376.65" r="1.5999999999999999" fill="#9080c0" />
<circle cx="302.00" cy="376.65" r="1.5999999999999999" fill="#9080c0" />
<circle cx="314.95" cy="376.65" r="1.7" fill="#9080c0" />
<circle cx="327.90" cy="376.65" r="1.7" fill="#a898c8" />
<circle cx="340.85" cy="376.65" r="1.3" fill="#9088a8" />
<circle cx="353.80" cy="376.65" r="1.3" fill="#999" />
<circle cx="146.60" cy="384.70" r="3.4000000000000004" fill="#c8b8e0" />
<circle cx="159.55" cy="384.70" r="3.4000000000000004" fill="#a898d0" />
<circle cx="172.50" cy="384.70" r="0.6" fill="#e6e3ec" />
<circle cx="185.45" cy="384.70" r="3.2" fill="#d0c0e0" />
<circle cx="198.40" cy="384.70" r="3.2" fill="#d8d8d8" />
<circle cx="211.35" cy="384.70" r="3.2" fill="#9a88c8" />
<circle cx="224.30" cy="384.70" r="0.6" fill="#e6e3ec" />
<circle cx="237.25" cy="384.70" r="0.6" fill="#e6e3ec" />
<circle cx="250.20" cy="384.70" r="0.6" fill="#e6e3ec" />
<circle cx="263.15" cy="384.70" r="3.4000000000000004" fill="#4a2890" />
<circle cx="276.10" cy="384.70" r="3.2" fill="#7a60b0" />
<circle cx="289.05" cy="384.70" r="3.4000000000000004" fill="#321c7e" />
<circle cx="302.00" cy="384.70" r="3.4000000000000004" fill="#321c7e" />
<circle cx="314.95" cy="384.70" r="3.4000000000000004" fill="#321c7e" />
<circle cx="327.90" cy="384.70" r="3.4000000000000004" fill="#321c7e" />
<circle cx="340.85" cy="384.70" r="1.7" fill="#7a60a8" />
<circle cx="353.80" cy="384.70" r="3.2" fill="#7a60b0" />
<circle cx="146.60" cy="392.75" r="3.5" fill="#7a60b0" />
<circle cx="159.55" cy="392.75" r="3.4000000000000004" fill="#b0a0d0" />
<circle cx="172.50" cy="392.75" r="1.9" fill="#a098c0" />
<circle cx="185.45" cy="392.75" r="3.4000000000000004" fill="#8a70b8" />
<circle cx="198.40" cy="392.75" r="3.5" fill="#4a2890" />
<circle cx="211.35" cy="392.75" r="3.4000000000000004" fill="#a898d0" />
<circle cx="224.30" cy="392.75" r="0.6" fill="#e6e3ec" />
<circle cx="237.25" cy="392.75" r="0.6" fill="#e6e3ec" />
<circle cx="250.20" cy="392.75" r="0.6" fill="#e6e3ec" />
<circle cx="263.15" cy="392.75" r="3.2" fill="#7a60b0" />
<circle cx="276.10" cy="392.75" r="3.2" fill="#7a60b0" />
<circle cx="289.05" cy="392.75" r="3.2" fill="#7a60b0" />
<circle cx="302.00" cy="392.75" r="3.2" fill="#7a60b0" />
<circle cx="314.95" cy="392.75" r="3.2" fill="#7a60b0" />
<circle cx="327.90" cy="392.75" r="1.7" fill="#a898c8" />
<circle cx="340.85" cy="392.75" r="2.8000000000000003" fill="#8a70b8" />
<circle cx="353.80" cy="392.75" r="3.4000000000000004" fill="#321c7e" />
<circle cx="146.60" cy="400.80" r="3.4000000000000004" fill="#a898d0" />
<circle cx="159.55" cy="400.80" r="3.4000000000000004" fill="#b0a0d0" />
<circle cx="172.50" cy="400.80" r="3.2" fill="#8a70b8" />
<circle cx="185.45" cy="400.80" r="3.4000000000000004" fill="#b0a0d0" />
<circle cx="198.40" cy="400.80" r="3.4000000000000004" fill="#8a70b8" />
<circle cx="211.35" cy="400.80" r="3.2" fill="#d0cce0" />
<circle cx="224.30" cy="400.80" r="0.6" fill="#e6e3ec" />
<circle cx="237.25" cy="400.80" r="0.6" fill="#e6e3ec" />
<circle cx="250.20" cy="400.80" r="0.6" fill="#e6e3ec" />
<circle cx="263.15" cy="400.80" r="3.2" fill="#b0a0d0" />
<circle cx="276.10" cy="400.80" r="3.4000000000000004" fill="#6a50a8" />
<circle cx="289.05" cy="400.80" r="3.2" fill="#b0a0d0" />
<circle cx="302.00" cy="400.80" r="3.2" fill="#c0b0d8" />
<circle cx="314.95" cy="400.80" r="3.2" fill="#c0b0d8" />
<circle cx="327.90" cy="400.80" r="3.0" fill="#7a60b0" />
<circle cx="340.85" cy="400.80" r="3.4000000000000004" fill="#321c7e" />
<circle cx="353.80" cy="400.80" r="0.6" fill="#e6e3ec" />
<line x1="138.50" y1="363.00" x2="138.50" y2="405.80" stroke="#231f20" stroke-width="1.0" />
<line x1="138.00" y1="405.30" x2="361.80" y2="405.30" stroke="#231f20" stroke-width="1.0" />
<line x1="135.30" y1="368.60" x2="138.50" y2="368.60" stroke="#231f20" stroke-width="1.0" />
<text x="132.30" y="370.90" font-size="6.6" fill="#231f20" text-anchor="end" stroke="#231f20" stroke-width="0.22" >0</text>
<line x1="135.30" y1="376.65" x2="138.50" y2="376.65" stroke="#231f20" stroke-width="1.0" />
<text x="132.30" y="378.95" font-size="6.6" fill="#231f20" text-anchor="end" stroke="#231f20" stroke-width="0.22" >10</text>
<line x1="135.30" y1="384.70" x2="138.50" y2="384.70" stroke="#231f20" stroke-width="1.0" />
<text x="132.30" y="387.00" font-size="6.6" fill="#231f20" text-anchor="end" stroke="#231f20" stroke-width="0.22" >2</text>
<line x1="135.30" y1="392.75" x2="138.50" y2="392.75" stroke="#231f20" stroke-width="1.0" />
<text x="132.30" y="395.05" font-size="6.6" fill="#231f20" text-anchor="end" stroke="#231f20" stroke-width="0.22" >1</text>
<line x1="135.30" y1="400.80" x2="138.50" y2="400.80" stroke="#231f20" stroke-width="1.0" />
<text x="132.30" y="403.10" font-size="6.6" fill="#231f20" text-anchor="end" stroke="#231f20" stroke-width="0.22" >4</text>
<line x1="146.60" y1="405.30" x2="146.60" y2="407.60" stroke="#231f20" stroke-width="0.8" />
<text x="148.20" y="411.50" font-size="6.6" fill="#231f20" text-anchor="end" transform="rotate(-90 148.20 411.50)" stroke="#231f20" stroke-width="0.22" >Itga2b</text>
<line x1="159.55" y1="405.30" x2="159.55" y2="407.60" stroke="#231f20" stroke-width="0.8" />
<text x="161.15" y="411.50" font-size="6.6" fill="#231f20" text-anchor="end" transform="rotate(-90 161.15 411.50)" stroke="#231f20" stroke-width="0.22" >Gp1ba</text>
<line x1="172.50" y1="405.30" x2="172.50" y2="407.60" stroke="#231f20" stroke-width="0.8" />
<text x="174.10" y="411.50" font-size="6.6" fill="#231f20" text-anchor="end" transform="rotate(-90 174.10 411.50)" stroke="#231f20" stroke-width="0.22" >Gata1</text>
<line x1="185.45" y1="405.30" x2="185.45" y2="407.60" stroke="#231f20" stroke-width="0.8" />
<text x="187.05" y="411.50" font-size="6.6" fill="#231f20" text-anchor="end" transform="rotate(-90 187.05 411.50)" stroke="#231f20" stroke-width="0.22" >Pf4</text>
<line x1="198.40" y1="405.30" x2="198.40" y2="407.60" stroke="#231f20" stroke-width="0.8" />
<text x="200.00" y="411.50" font-size="6.6" fill="#231f20" text-anchor="end" transform="rotate(-90 200.00 411.50)" stroke="#231f20" stroke-width="0.22" >Gp9</text>
<line x1="211.35" y1="405.30" x2="211.35" y2="407.60" stroke="#231f20" stroke-width="0.8" />
<text x="212.95" y="411.50" font-size="6.6" fill="#231f20" text-anchor="end" transform="rotate(-90 212.95 411.50)" stroke="#231f20" stroke-width="0.22" >Vwf</text>
<line x1="224.30" y1="405.30" x2="224.30" y2="407.60" stroke="#231f20" stroke-width="0.8" />
<text x="225.90" y="411.50" font-size="6.6" fill="#231f20" text-anchor="end" transform="rotate(-90 225.90 411.50)" stroke="#231f20" stroke-width="0.22" >Cd3e</text>
<line x1="237.25" y1="405.30" x2="237.25" y2="407.60" stroke="#231f20" stroke-width="0.8" />
<text x="238.85" y="411.50" font-size="6.6" fill="#231f20" text-anchor="end" transform="rotate(-90 238.85 411.50)" stroke="#231f20" stroke-width="0.22" >Cd3g</text>
<line x1="250.20" y1="405.30" x2="250.20" y2="407.60" stroke="#231f20" stroke-width="0.8" />
<text x="251.80" y="411.50" font-size="6.6" fill="#231f20" text-anchor="end" transform="rotate(-90 251.80 411.50)" stroke="#231f20" stroke-width="0.22" >Cd79a</text>
<line x1="263.15" y1="405.30" x2="263.15" y2="407.60" stroke="#231f20" stroke-width="0.8" />
<text x="264.75" y="411.50" font-size="6.6" fill="#231f20" text-anchor="end" transform="rotate(-90 264.75 411.50)" stroke="#231f20" stroke-width="0.22" >Cd74</text>
<line x1="276.10" y1="405.30" x2="276.10" y2="407.60" stroke="#231f20" stroke-width="0.8" />
<text x="277.70" y="411.50" font-size="6.6" fill="#231f20" text-anchor="end" transform="rotate(-90 277.70 411.50)" stroke="#231f20" stroke-width="0.22" >Lyz2</text>
<line x1="289.05" y1="405.30" x2="289.05" y2="407.60" stroke="#231f20" stroke-width="0.8" />
<text x="290.65" y="411.50" font-size="6.6" fill="#231f20" text-anchor="end" transform="rotate(-90 290.65 411.50)" stroke="#231f20" stroke-width="0.22" >H2-Ab1</text>
<line x1="302.00" y1="405.30" x2="302.00" y2="407.60" stroke="#231f20" stroke-width="0.8" />
<text x="303.60" y="411.50" font-size="6.6" fill="#231f20" text-anchor="end" transform="rotate(-90 303.60 411.50)" stroke="#231f20" stroke-width="0.22" >H2-Aa</text>
<line x1="314.95" y1="405.30" x2="314.95" y2="407.60" stroke="#231f20" stroke-width="0.8" />
<text x="316.55" y="411.50" font-size="6.6" fill="#231f20" text-anchor="end" transform="rotate(-90 316.55 411.50)" stroke="#231f20" stroke-width="0.22" >H2-Eb1</text>
<line x1="327.90" y1="405.30" x2="327.90" y2="407.60" stroke="#231f20" stroke-width="0.8" />
<text x="329.50" y="411.50" font-size="6.6" fill="#231f20" text-anchor="end" transform="rotate(-90 329.50 411.50)" stroke="#231f20" stroke-width="0.22" >Cd52</text>
<line x1="340.85" y1="405.30" x2="340.85" y2="407.60" stroke="#231f20" stroke-width="0.8" />
<text x="342.45" y="411.50" font-size="6.6" fill="#231f20" text-anchor="end" transform="rotate(-90 342.45 411.50)" stroke="#231f20" stroke-width="0.22" >Cd53</text>
<line x1="353.80" y1="405.30" x2="353.80" y2="407.60" stroke="#231f20" stroke-width="0.8" />
<text x="355.40" y="411.50" font-size="6.6" fill="#231f20" text-anchor="end" transform="rotate(-90 355.40 411.50)" stroke="#231f20" stroke-width="0.22" >C1qb</text>
<text x="120.30" y="385.20" font-size="7.8" fill="#231f20" text-anchor="middle" textLength="21.0" lengthAdjust="spacingAndGlyphs" transform="rotate(-90 120.30 385.20)" stroke="#231f20" stroke-width="0.22" >Cluster</text>
<text x="151.20" y="343.80" font-size="8.0" fill="#231f20" textLength="48.5" lengthAdjust="spacingAndGlyphs" stroke="#231f20" stroke-width="0.22" >% Expressed</text>
<circle cx="141.00" cy="352.10" r="0.3" fill="#000" />
<text x="143.80" y="354.40" font-size="6.5" fill="#231f20" stroke="#231f20" stroke-width="0.22" >0</text>
<circle cx="153.80" cy="352.10" r="0.7" fill="#000" />
<text x="157.30" y="354.40" font-size="6.5" fill="#231f20" stroke="#231f20" stroke-width="0.22" >25</text>
<circle cx="169.80" cy="352.10" r="1.2" fill="#000" />
<text x="173.70" y="354.40" font-size="6.5" fill="#231f20" stroke="#231f20" stroke-width="0.22" >50</text>
<circle cx="185.50" cy="352.10" r="1.8" fill="#000" />
<text x="190.20" y="354.40" font-size="6.5" fill="#231f20" stroke="#231f20" stroke-width="0.22" >75</text>
<circle cx="202.60" cy="352.10" r="2.4" fill="#000" />
<text x="207.50" y="354.40" font-size="6.5" fill="#231f20" stroke="#231f20" stroke-width="0.22" >100</text>
<text x="240.10" y="343.70" font-size="8.0" fill="#231f20" textLength="59.2" lengthAdjust="spacingAndGlyphs" stroke="#231f20" stroke-width="0.22" >Avg Expression</text>
<rect x="248.50" y="349.20" width="28.50" height="5.70" fill="url(#gH)" stroke="none" stroke-width="0" />
<line x1="251.80" y1="349.20" x2="251.80" y2="350.40" stroke="#fff" stroke-width="0.6" />
<line x1="251.80" y1="353.70" x2="251.80" y2="354.90" stroke="#fff" stroke-width="0.6" />
<line x1="261.40" y1="349.20" x2="261.40" y2="350.40" stroke="#fff" stroke-width="0.6" />
<line x1="261.40" y1="353.70" x2="261.40" y2="354.90" stroke="#fff" stroke-width="0.6" />
<line x1="270.60" y1="349.20" x2="270.60" y2="350.40" stroke="#fff" stroke-width="0.6" />
<line x1="270.60" y1="353.70" x2="270.60" y2="354.90" stroke="#fff" stroke-width="0.6" />
<text x="251.80" y="364.00" font-size="6.5" fill="#231f20" text-anchor="middle" stroke="#231f20" stroke-width="0.22" >–1</text>
<text x="261.40" y="364.00" font-size="6.5" fill="#231f20" text-anchor="middle" stroke="#231f20" stroke-width="0.22" >0</text>
<text x="270.60" y="364.00" font-size="6.5" fill="#231f20" text-anchor="middle" stroke="#231f20" stroke-width="0.22" >1</text>
<text x="376.00" y="342.00" font-size="7.6" fill="#231f20" textLength="23.0" lengthAdjust="spacingAndGlyphs" stroke="#231f20" stroke-width="0.22" >Tissue</text>
<rect x="373.80" y="346.60" width="5.60" height="5.60" fill="#cf0a2c" stroke="#231f20" stroke-width="0.7" />
<rect x="373.80" y="356.90" width="5.60" height="5.60" fill="#36ace0" stroke="#231f20" stroke-width="0.7" />
<text x="382.70" y="351.80" font-size="6.6" fill="#231f20" stroke="#231f20" stroke-width="0.22" >BM</text>
<text x="382.70" y="362.20" font-size="6.6" fill="#231f20" stroke="#231f20" stroke-width="0.22" >Lung</text>
<rect x="370.20" y="365.50" width="31.70" height="5.80" fill="#cf0a2c" stroke="none" stroke-width="0" />
<rect x="370.20" y="365.50" width="31.70" height="5.80" fill="none" stroke="#2a1418" stroke-width="0.7" />
<rect x="370.20" y="373.55" width="31.70" height="5.80" fill="#cf0a2c" stroke="none" stroke-width="0" />
<rect x="370.20" y="373.55" width="7.92" height="5.80" fill="#36ace0" stroke="none" stroke-width="0" />
<rect x="370.20" y="373.55" width="31.70" height="5.80" fill="none" stroke="#2a1418" stroke-width="0.7" />
<rect x="370.20" y="381.60" width="31.70" height="5.80" fill="#cf0a2c" stroke="none" stroke-width="0" />
<rect x="370.20" y="381.60" width="31.70" height="5.80" fill="#36ace0" stroke="none" stroke-width="0" />
<rect x="370.20" y="381.60" width="31.70" height="5.80" fill="none" stroke="#2a1418" stroke-width="0.7" />
<rect x="370.20" y="389.65" width="31.70" height="5.80" fill="#cf0a2c" stroke="none" stroke-width="0" />
<rect x="370.20" y="389.65" width="31.70" height="5.80" fill="#36ace0" stroke="none" stroke-width="0" />
<rect x="370.20" y="389.65" width="31.70" height="5.80" fill="none" stroke="#2a1418" stroke-width="0.7" />
<rect x="370.20" y="397.70" width="31.70" height="5.80" fill="#cf0a2c" stroke="none" stroke-width="0" />
<rect x="370.20" y="397.70" width="31.70" height="5.80" fill="#36ace0" stroke="none" stroke-width="0" />
<rect x="370.20" y="397.70" width="31.70" height="5.80" fill="none" stroke="#2a1418" stroke-width="0.7" />
<line x1="367.50" y1="405.30" x2="403.70" y2="405.30" stroke="#231f20" stroke-width="1.0" />
<line x1="370.20" y1="405.30" x2="370.20" y2="407.60" stroke="#231f20" stroke-width="0.8" />
<text x="372.40" y="411.50" font-size="6.2" fill="#231f20" text-anchor="end" transform="rotate(-90 372.40 411.50)" stroke="#231f20" stroke-width="0.22" >0.00</text>
<line x1="378.12" y1="405.30" x2="378.12" y2="407.60" stroke="#231f20" stroke-width="0.8" />
<text x="380.32" y="411.50" font-size="6.2" fill="#231f20" text-anchor="end" transform="rotate(-90 380.32 411.50)" stroke="#231f20" stroke-width="0.22" >0.25</text>
<line x1="386.05" y1="405.30" x2="386.05" y2="407.60" stroke="#231f20" stroke-width="0.8" />
<text x="388.25" y="411.50" font-size="6.2" fill="#231f20" text-anchor="end" transform="rotate(-90 388.25 411.50)" stroke="#231f20" stroke-width="0.22" >0.50</text>
<line x1="393.97" y1="405.30" x2="393.97" y2="407.60" stroke="#231f20" stroke-width="0.8" />
<text x="396.17" y="411.50" font-size="6.2" fill="#231f20" text-anchor="end" transform="rotate(-90 396.17 411.50)" stroke="#231f20" stroke-width="0.22" >0.75</text>
<line x1="401.90" y1="405.30" x2="401.90" y2="407.60" stroke="#231f20" stroke-width="0.8" />
<text x="404.10" y="411.50" font-size="6.2" fill="#231f20" text-anchor="end" transform="rotate(-90 404.10 411.50)" stroke="#231f20" stroke-width="0.22" >1.00</text>
<text x="454.10" y="291.00" font-size="8.6" fill="#231f20" textLength="54.4" lengthAdjust="spacingAndGlyphs" stroke="#231f20" stroke-width="0.22" >PPF Signature</text>
<text x="424.40" y="367.60" font-size="6.8" fill="#231f20" text-anchor="middle" textLength="109.4" lengthAdjust="spacingAndGlyphs" transform="rotate(-90 424.40 367.60)" stroke="#231f20" stroke-width="0.22" >Average expression signature genes</text>
<path d="M462.6,304.4 L466.8,304.4 C469,313 472,322 474.5,333 C476.8,345 478.2,358 478.8,372 C479.6,384 480.6,393 479.5,400 C478.5,408 476.5,414 474.5,420 C473,425 471.8,429 471.2,431.3 L458.8,431.3 C457.6,429 456.4,425 455.4,420 C453.2,414 451.4,408 450.6,400 C449.6,393 449.8,384 450.4,372 C451,358 452.6,345 455.2,333 C457.6,322 460.6,313 462.6,304.4 Z" fill="#c8102e" stroke="#3a0a12" stroke-width="0.5"/>
<path d="M494.8,339.9 L500.6,339.9 C500.8,344 500.8,348 501.2,351.5 C502,357 504,362 506.8,369 C510,376 513.4,384 513.6,392 C513.8,399 512.8,405 510.5,410 C508.5,414 506.5,417 504,420 L501.7,424.6 L493.5,424.6 L491.4,420 C489,417 487,414 486.2,410 C484.4,405 484,399 484.6,392 C485.2,384 487,376 489.9,369 C492.4,362 494,357 494.6,351.5 C494.8,348 494.8,344 494.8,339.9 Z" fill="#2f9fd8" stroke="#123050" stroke-width="0.6"/>
<circle cx="456.78" cy="390.26" r="0.45" fill="#3a0a10" />
<circle cx="454.66" cy="349.86" r="0.45" fill="#3a0a10" />
<circle cx="461.62" cy="364.07" r="0.45" fill="#3a0a10" />
<circle cx="465.12" cy="423.10" r="0.45" fill="#3a0a10" />
<circle cx="463.95" cy="425.63" r="0.45" fill="#3a0a10" />
<circle cx="458.09" cy="421.63" r="0.45" fill="#3a0a10" />
<circle cx="473.12" cy="377.83" r="0.45" fill="#3a0a10" />
<circle cx="459.86" cy="414.97" r="0.45" fill="#3a0a10" />
<circle cx="475.96" cy="352.77" r="0.45" fill="#3a0a10" />
<circle cx="462.42" cy="358.98" r="0.45" fill="#3a0a10" />
<circle cx="457.78" cy="309.68" r="0.45" fill="#3a0a10" />
<circle cx="460.88" cy="324.23" r="0.45" fill="#3a0a10" />
<circle cx="457.67" cy="412.44" r="0.45" fill="#3a0a10" />
<circle cx="472.35" cy="392.16" r="0.45" fill="#3a0a10" />
<circle cx="466.65" cy="407.94" r="0.45" fill="#3a0a10" />
<circle cx="461.89" cy="351.35" r="0.45" fill="#3a0a10" />
<circle cx="454.02" cy="362.61" r="0.45" fill="#3a0a10" />
<circle cx="460.13" cy="422.90" r="0.45" fill="#3a0a10" />
<circle cx="463.28" cy="346.22" r="0.45" fill="#3a0a10" />
<circle cx="467.00" cy="391.46" r="0.45" fill="#3a0a10" />
<circle cx="459.98" cy="374.29" r="0.45" fill="#3a0a10" />
<circle cx="469.24" cy="332.15" r="0.45" fill="#3a0a10" />
<circle cx="466.63" cy="400.11" r="0.45" fill="#3a0a10" />
<circle cx="474.45" cy="365.39" r="0.45" fill="#3a0a10" />
<circle cx="460.16" cy="340.17" r="0.45" fill="#3a0a10" />
<circle cx="458.97" cy="309.20" r="0.45" fill="#3a0a10" />
<circle cx="471.38" cy="378.62" r="0.45" fill="#3a0a10" />
<circle cx="464.79" cy="411.49" r="0.45" fill="#3a0a10" />
<circle cx="467.67" cy="425.42" r="0.45" fill="#3a0a10" />
<circle cx="466.61" cy="335.83" r="0.45" fill="#3a0a10" />
<circle cx="461.45" cy="322.13" r="0.45" fill="#3a0a10" />
<circle cx="467.22" cy="344.38" r="0.45" fill="#3a0a10" />
<circle cx="463.91" cy="358.64" r="0.45" fill="#3a0a10" />
<circle cx="473.94" cy="326.52" r="0.45" fill="#3a0a10" />
<circle cx="469.13" cy="371.70" r="0.45" fill="#3a0a10" />
<circle cx="468.34" cy="422.77" r="0.45" fill="#3a0a10" />
<circle cx="476.95" cy="350.33" r="0.45" fill="#3a0a10" />
<circle cx="460.56" cy="328.74" r="0.45" fill="#3a0a10" />
<circle cx="469.12" cy="382.61" r="0.45" fill="#3a0a10" />
<circle cx="464.41" cy="427.47" r="0.45" fill="#3a0a10" />
<circle cx="490.34" cy="409.56" r="0.45" fill="#0a2040" />
<circle cx="503.36" cy="418.35" r="0.45" fill="#0a2040" />
<circle cx="492.95" cy="412.68" r="0.45" fill="#0a2040" />
<circle cx="505.43" cy="391.61" r="0.45" fill="#0a2040" />
<circle cx="496.98" cy="416.61" r="0.45" fill="#0a2040" />
<circle cx="505.67" cy="378.84" r="0.45" fill="#0a2040" />
<circle cx="505.28" cy="357.11" r="0.45" fill="#0a2040" />
<circle cx="496.31" cy="400.67" r="0.45" fill="#0a2040" />
<circle cx="505.68" cy="394.20" r="0.45" fill="#0a2040" />
<circle cx="491.02" cy="345.95" r="0.45" fill="#0a2040" />
<circle cx="492.64" cy="408.91" r="0.45" fill="#0a2040" />
<circle cx="497.70" cy="404.30" r="0.45" fill="#0a2040" />
<circle cx="493.25" cy="375.65" r="0.45" fill="#0a2040" />
<circle cx="496.38" cy="422.77" r="0.45" fill="#0a2040" />
<circle cx="499.33" cy="393.36" r="0.45" fill="#0a2040" />
<circle cx="501.81" cy="346.33" r="0.45" fill="#0a2040" />
<circle cx="449.00" cy="423.10" r="0.5" fill="#222" />
<circle cx="470.00" cy="423.10" r="0.5" fill="#222" />
<circle cx="462.00" cy="312.12" r="0.5" fill="#222" />
<circle cx="471.00" cy="342.55" r="0.5" fill="#222" />
<circle cx="454.00" cy="353.29" r="0.5" fill="#222" />
<circle cx="455.50" cy="358.66" r="0.5" fill="#222" />
<circle cx="492.50" cy="340.76" r="0.5" fill="#222" />
<circle cx="505.00" cy="423.10" r="0.5" fill="#222" />
<line x1="467.70" y1="309.25" x2="503.75" y2="309.25" stroke="#4a4a4a" stroke-width="1.0" />
<text x="481.40" y="306.80" font-size="6.9" fill="#231f20" text-anchor="middle" stroke="#231f20" stroke-width="0.22" >ns</text>
<circle cx="468.70" cy="304.50" r="0.55" fill="#222" />
<line x1="444.50" y1="298.00" x2="444.50" y2="438.00" stroke="#231f20" stroke-width="1.0" />
<line x1="444.00" y1="437.50" x2="512.80" y2="437.50" stroke="#231f20" stroke-width="1.0" />
<line x1="441.20" y1="405.20" x2="444.50" y2="405.20" stroke="#231f20" stroke-width="1.0" />
<text x="438.90" y="407.60" font-size="6.9" fill="#231f20" text-anchor="end" stroke="#231f20" stroke-width="0.22" >0.2</text>
<line x1="441.20" y1="369.40" x2="444.50" y2="369.40" stroke="#231f20" stroke-width="1.0" />
<text x="438.90" y="371.80" font-size="6.9" fill="#231f20" text-anchor="end" stroke="#231f20" stroke-width="0.22" >0.4</text>
<line x1="441.20" y1="333.60" x2="444.50" y2="333.60" stroke="#231f20" stroke-width="1.0" />
<text x="438.90" y="336.00" font-size="6.9" fill="#231f20" text-anchor="end" stroke="#231f20" stroke-width="0.22" >0.6</text>
<line x1="464.20" y1="437.50" x2="464.20" y2="440.80" stroke="#231f20" stroke-width="1.1" />
<text x="467.20" y="446.70" font-size="6.6" fill="#231f20" text-anchor="end" transform="rotate(-45 467.20 446.70)" stroke="#231f20" stroke-width="0.22" >BM</text>
<line x1="498.10" y1="437.50" x2="498.10" y2="440.80" stroke="#231f20" stroke-width="1.1" />
<text x="501.10" y="446.70" font-size="6.6" fill="#231f20" text-anchor="end" transform="rotate(-45 501.10 446.70)" stroke="#231f20" stroke-width="0.22" >Lung</text>
<rect x="0.5" y="0.5" width="519" height="464" fill="none" stroke="#555" stroke-width="1"/>
</svg></div></body></html>
